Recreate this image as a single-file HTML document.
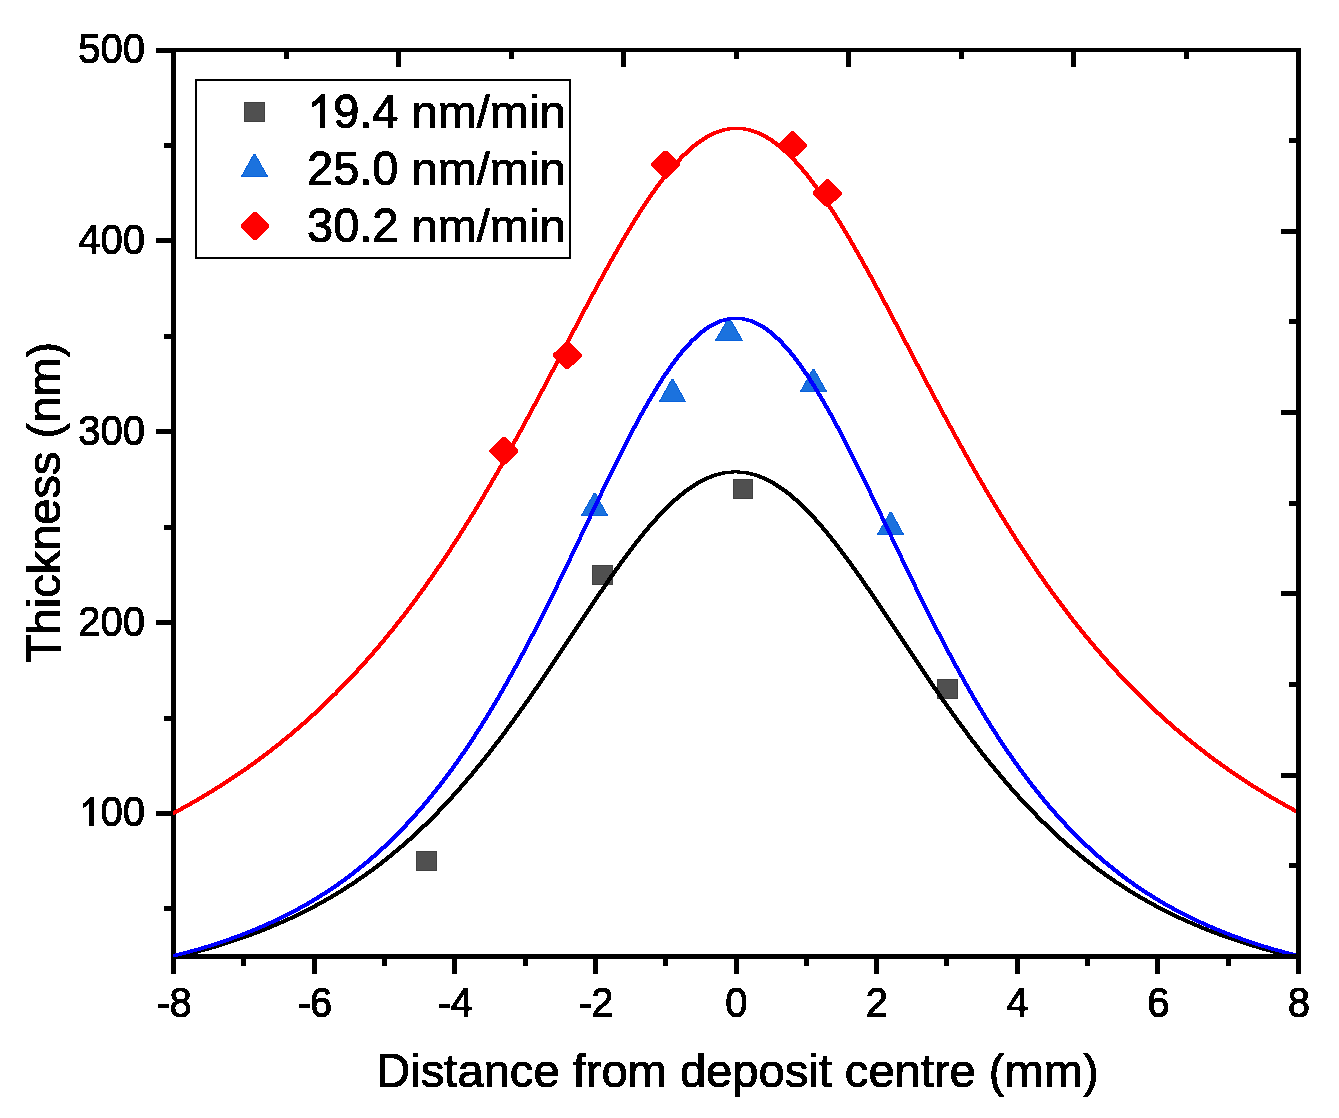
<!DOCTYPE html>
<html><head><meta charset="utf-8"><title>Thickness profile</title><style>
html,body{margin:0;padding:0;background:#fff;width:1339px;height:1118px;overflow:hidden}
svg{display:block}
text{font-family:"Liberation Sans",sans-serif;fill:#000;stroke:#000;stroke-width:1px}
</style></head><body>
<svg width="1339" height="1118" viewBox="0 0 1339 1118">
<defs><filter id="al" x="0" y="0" width="1339" height="1118" filterUnits="userSpaceOnUse"><feComponentTransfer><feFuncA type="discrete" tableValues="0 1"/></feComponentTransfer></filter></defs>
<rect width="1339" height="1118" fill="#fff"/>
<g fill="#000" shape-rendering="crispEdges"><rect x="171.00" y="48.00" width="1130.00" height="4.00"/><rect x="171.00" y="954.00" width="1130.00" height="5.00"/><rect x="171.00" y="48.00" width="5.00" height="911.00"/><rect x="1296.00" y="48.00" width="5.00" height="911.00"/><rect x="164.00" y="906.44" width="7.00" height="5.00"/><rect x="156.00" y="811.00" width="15.00" height="5.00"/><rect x="164.00" y="715.56" width="7.00" height="5.00"/><rect x="156.00" y="620.12" width="15.00" height="5.00"/><rect x="164.00" y="524.69" width="7.00" height="5.00"/><rect x="156.00" y="429.25" width="15.00" height="5.00"/><rect x="164.00" y="333.81" width="7.00" height="5.00"/><rect x="156.00" y="238.38" width="15.00" height="5.00"/><rect x="164.00" y="142.94" width="7.00" height="5.00"/><rect x="156.00" y="47.50" width="15.00" height="5.00"/><rect x="171.00" y="959.00" width="5.00" height="15.00"/><rect x="241.31" y="959.00" width="5.00" height="7.00"/><rect x="311.62" y="959.00" width="5.00" height="15.00"/><rect x="381.94" y="959.00" width="5.00" height="7.00"/><rect x="452.25" y="959.00" width="5.00" height="15.00"/><rect x="522.56" y="959.00" width="5.00" height="7.00"/><rect x="592.88" y="959.00" width="5.00" height="15.00"/><rect x="663.19" y="959.00" width="5.00" height="7.00"/><rect x="733.50" y="959.00" width="5.00" height="15.00"/><rect x="803.81" y="959.00" width="5.00" height="7.00"/><rect x="874.12" y="959.00" width="5.00" height="15.00"/><rect x="944.44" y="959.00" width="5.00" height="7.00"/><rect x="1014.75" y="959.00" width="5.00" height="15.00"/><rect x="1085.06" y="959.00" width="5.00" height="7.00"/><rect x="1155.38" y="959.00" width="5.00" height="15.00"/><rect x="1225.69" y="959.00" width="5.00" height="7.00"/><rect x="1296.00" y="959.00" width="5.00" height="15.00"/><rect x="283.50" y="52.00" width="5.00" height="7.00"/><rect x="396.00" y="52.00" width="5.00" height="15.00"/><rect x="508.50" y="52.00" width="5.00" height="7.00"/><rect x="621.00" y="52.00" width="5.00" height="15.00"/><rect x="733.50" y="52.00" width="5.00" height="7.00"/><rect x="846.00" y="52.00" width="5.00" height="15.00"/><rect x="958.50" y="52.00" width="5.00" height="7.00"/><rect x="1071.00" y="52.00" width="5.00" height="15.00"/><rect x="1183.50" y="52.00" width="5.00" height="7.00"/><rect x="1289.00" y="138.15" width="7.00" height="5.00"/><rect x="1281.00" y="228.80" width="15.00" height="5.00"/><rect x="1289.00" y="319.45" width="7.00" height="5.00"/><rect x="1281.00" y="410.10" width="15.00" height="5.00"/><rect x="1289.00" y="500.75" width="7.00" height="5.00"/><rect x="1281.00" y="591.40" width="15.00" height="5.00"/><rect x="1289.00" y="682.05" width="7.00" height="5.00"/><rect x="1281.00" y="772.70" width="15.00" height="5.00"/><rect x="1289.00" y="863.35" width="7.00" height="5.00"/></g>
<g filter="url(#al)"><path d="M93.71,825.70 L89.22,825.70 L89.22,803.83 Q87.66,805.39 85.70,806.46 Q84.14,807.44 82.93,808.22 L82.93,803.49 Q85.70,802.07 87.46,800.31 Q89.22,798.45 90.19,796.89 L93.71,796.89 Z" fill="#000"/><g transform="translate(0,826.00) scale(1,1.06)"><text x="100.52" y="0" font-size="40">00</text></g><g transform="translate(0,635.62) scale(1,1.06)"><text x="145" y="0" text-anchor="end" font-size="40">200</text></g><g transform="translate(0,444.75) scale(1,1.06)"><text x="145" y="0" text-anchor="end" font-size="40">300</text></g><g transform="translate(0,253.88) scale(1,1.06)"><text x="145" y="0" text-anchor="end" font-size="40">400</text></g><g transform="translate(0,63.00) scale(1,1.06)"><text x="145" y="0" text-anchor="end" font-size="40">500</text></g><rect x="158.0" y="1004" width="11" height="4" fill="#000"/><g transform="translate(0,1017) scale(1,1.06)"><text x="169.44" y="0" font-size="40">8</text></g><rect x="298.6" y="1004" width="11" height="4" fill="#000"/><g transform="translate(0,1017) scale(1,1.06)"><text x="310.06" y="0" font-size="40">6</text></g><rect x="439.2" y="1004" width="11" height="4" fill="#000"/><g transform="translate(0,1017) scale(1,1.06)"><text x="450.69" y="0" font-size="40">4</text></g><rect x="579.9" y="1004" width="11" height="4" fill="#000"/><g transform="translate(0,1017) scale(1,1.06)"><text x="591.32" y="0" font-size="40">2</text></g><g transform="translate(0,1017) scale(1,1.06)"><text x="736.4" y="0" text-anchor="middle" font-size="40">0</text></g><g transform="translate(0,1017) scale(1,1.06)"><text x="877.0" y="0" text-anchor="middle" font-size="40">2</text></g><g transform="translate(0,1017) scale(1,1.06)"><text x="1017.6" y="0" text-anchor="middle" font-size="40">4</text></g><g transform="translate(0,1017) scale(1,1.06)"><text x="1158.3" y="0" text-anchor="middle" font-size="40">6</text></g><g transform="translate(0,1017) scale(1,1.06)"><text x="1298.9" y="0" text-anchor="middle" font-size="40">8</text></g><g transform="translate(376.34,1087) scale(1,1.04)"><text x="0" y="0" font-size="47.1">D</text></g><text x="410.36" y="1087" font-size="47.1">istance from deposit centre (mm)</text><g transform="translate(60,502.5) rotate(-90)"><g transform="translate(-160.62,0) scale(1,1.04)"><text x="0" y="0" font-size="47">T</text></g><text x="-131.90" y="0" font-size="47">hickness (nm)</text></g><path d="M325.13,128.00 L319.85,128.00 L319.85,102.30 Q318.02,104.13 315.72,105.40 Q313.88,106.54 312.46,107.46 L312.46,101.91 Q315.72,100.23 317.79,98.17 Q319.85,95.99 321.00,94.15 L325.13,94.15 Z" fill="#000"/><g transform="translate(333.13,128) scale(1,1.03)"><text x="0" y="0" font-size="47">9.4</text></g><text x="411.53" y="128" font-size="47">nm/min</text><g transform="translate(307,185) scale(1,1.03)"><text x="0" y="0" font-size="47">25.0</text></g><text x="411.53" y="185" font-size="47">nm/min</text><g transform="translate(307,241.7) scale(1,1.03)"><text x="0" y="0" font-size="47">30.2</text></g><text x="411.53" y="241.7" font-size="47">nm/min</text></g>
<g shape-rendering="crispEdges"><rect x="416.5" y="851.5" width="20" height="19" fill="#505050" stroke="#414141" stroke-width="1"/><rect x="592.5" y="565.5" width="20" height="19" fill="#505050" stroke="#414141" stroke-width="1"/><rect x="733.5" y="479.5" width="19" height="19" fill="#505050" stroke="#414141" stroke-width="1"/><rect x="937.5" y="679.5" width="20" height="19" fill="#505050" stroke="#414141" stroke-width="1"/><path d="M593.90,493.60 L595.50,493.60 L607.50,515.50 L581.50,515.50 Z" fill="#1b72de" stroke="#0a62dc" stroke-width="1" stroke-linejoin="miter"/><path d="M671.70,379.60 L673.30,379.60 L685.50,401.50 L659.50,401.50 Z" fill="#1b72de" stroke="#0a62dc" stroke-width="1" stroke-linejoin="miter"/><path d="M728.20,318.60 L729.80,318.60 L742.50,340.50 L715.50,340.50 Z" fill="#1b72de" stroke="#0a62dc" stroke-width="1" stroke-linejoin="miter"/><path d="M812.70,369.60 L814.30,369.60 L826.50,391.50 L800.50,391.50 Z" fill="#1b72de" stroke="#0a62dc" stroke-width="1" stroke-linejoin="miter"/><path d="M890.00,512.60 L891.60,512.60 L903.50,534.50 L877.50,534.50 Z" fill="#1b72de" stroke="#0a62dc" stroke-width="1" stroke-linejoin="miter"/><path d="M502.77,436.84 L505.17,436.84 L518.47,449.64 L518.47,452.04 L505.17,464.84 L502.77,464.84 L489.47,452.04 L489.47,449.64 Z" fill="#ff0000"/><path d="M566.05,341.40 L568.45,341.40 L581.75,354.20 L581.75,356.60 L568.45,369.40 L566.05,369.40 L552.75,356.60 L552.75,354.20 Z" fill="#ff0000"/><path d="M664.49,150.52 L666.89,150.52 L680.19,163.32 L680.19,165.72 L666.89,178.52 L664.49,178.52 L651.19,165.72 L651.19,163.32 Z" fill="#ff0000"/><path d="M791.05,131.44 L793.45,131.44 L806.75,144.24 L806.75,146.64 L793.45,159.44 L791.05,159.44 L777.75,146.64 L777.75,144.24 Z" fill="#ff0000"/><path d="M826.21,179.16 L828.61,179.16 L841.91,191.96 L841.91,194.36 L828.61,207.16 L826.21,207.16 L812.91,194.36 L812.91,191.96 Z" fill="#ff0000"/></g>
<g stroke="none" shape-rendering="crispEdges"><path d="M173.0,956.0 L174.0,955.8 L175.0,955.6 L176.0,955.3 L177.0,955.1 L178.0,954.8 L179.0,954.6 L180.0,954.3 L181.0,954.1 L182.0,953.8 L183.0,953.6 L184.0,953.3 L185.0,953.1 L186.0,952.8 L187.0,952.6 L188.0,952.3 L189.0,952.1 L190.0,951.8 L191.0,951.5 L192.0,951.3 L193.0,951.0 L194.0,950.7 L195.0,950.5 L196.0,950.2 L197.0,949.9 L198.0,949.6 L199.0,949.4 L200.0,949.1 L201.0,948.8 L202.0,948.5 L203.0,948.3 L204.0,948.0 L205.0,947.7 L206.0,947.4 L207.0,947.1 L208.0,946.8 L209.0,946.5 L210.0,946.2 L211.0,945.9 L212.0,945.7 L213.0,945.4 L214.0,945.1 L215.0,944.8 L216.0,944.4 L217.0,944.1 L218.0,943.8 L219.0,943.5 L220.0,943.2 L221.0,942.9 L222.0,942.6 L223.0,942.3 L224.0,942.0 L225.0,941.6 L226.0,941.3 L227.0,941.0 L228.0,940.7 L229.0,940.3 L230.0,940.0 L231.0,939.7 L232.0,939.3 L233.0,939.0 L234.0,938.7 L235.0,938.3 L236.0,938.0 L237.0,937.7 L238.0,937.3 L239.0,937.0 L240.0,936.6 L241.0,936.3 L242.0,935.9 L243.0,935.6 L244.0,935.2 L245.0,934.8 L246.0,934.5 L247.0,934.1 L248.0,933.8 L249.0,933.4 L250.0,933.0 L251.0,932.6 L252.0,932.3 L253.0,931.9 L254.0,931.5 L255.0,931.1 L256.0,930.8 L257.0,930.4 L258.0,930.0 L259.0,929.6 L260.0,929.2 L261.0,928.8 L262.0,928.4 L263.0,928.0 L264.0,927.6 L265.0,927.2 L266.0,926.8 L267.0,926.4 L268.0,926.0 L269.0,925.6 L270.0,925.2 L271.0,924.7 L272.0,924.3 L273.0,923.9 L274.0,923.5 L275.0,923.0 L276.0,922.6 L277.0,922.2 L278.0,921.7 L279.0,921.3 L280.0,920.9 L281.0,920.4 L282.0,920.0 L283.0,919.5 L284.0,919.1 L285.0,918.6 L286.0,918.2 L287.0,917.7 L288.0,917.3 L289.0,916.8 L290.0,916.3 L291.0,915.9 L292.0,915.4 L293.0,914.9 L294.0,914.4 L295.0,914.0 L296.0,913.5 L297.0,913.0 L298.0,912.5 L299.0,912.0 L300.0,911.5 L301.0,911.0 L302.0,910.5 L303.0,910.0 L304.0,909.5 L305.0,909.0 L306.0,908.5 L307.0,908.0 L308.0,907.5 L309.0,906.9 L310.0,906.4 L311.0,905.9 L312.0,905.4 L313.0,904.8 L314.0,904.3 L315.0,903.8 L316.0,903.2 L317.0,902.7 L318.0,902.1 L319.0,901.6 L320.0,901.0 L321.0,900.5 L322.0,899.9 L323.0,899.3 L324.0,898.8 L325.0,898.2 L326.0,897.6 L327.0,897.1 L328.0,896.5 L329.0,895.9 L330.0,895.3 L331.0,894.7 L332.0,894.1 L333.0,893.5 L334.0,892.9 L335.0,892.3 L336.0,891.7 L337.0,891.1 L338.0,890.5 L339.0,889.9 L340.0,889.3 L341.0,888.6 L342.0,888.0 L343.0,887.4 L344.0,886.7 L345.0,886.1 L346.0,885.5 L347.0,884.8 L348.0,884.2 L349.0,883.5 L350.0,882.9 L351.0,882.2 L352.0,881.5 L353.0,880.9 L354.0,880.2 L355.0,879.5 L356.0,878.8 L357.0,878.2 L358.0,877.5 L359.0,876.8 L360.0,876.1 L361.0,875.4 L362.0,874.7 L363.0,874.0 L364.0,873.3 L365.0,872.6 L366.0,871.8 L367.0,871.1 L368.0,870.4 L369.0,869.7 L370.0,868.9 L371.0,868.2 L372.0,867.5 L373.0,866.7 L374.0,866.0 L375.0,865.2 L376.0,864.5 L377.0,863.7 L378.0,862.9 L379.0,862.2 L380.0,861.4 L381.0,860.6 L382.0,859.8 L383.0,859.0 L384.0,858.2 L385.0,857.5 L386.0,856.7 L387.0,855.9 L388.0,855.0 L389.0,854.2 L390.0,853.4 L391.0,852.6 L392.0,851.8 L393.0,850.9 L394.0,850.1 L395.0,849.3 L396.0,848.4 L397.0,847.6 L398.0,846.7 L399.0,845.9 L400.0,845.0 L401.0,844.1 L402.0,843.3 L403.0,842.4 L404.0,841.5 L405.0,840.6 L406.0,839.8 L407.0,838.9 L408.0,838.0 L409.0,837.1 L410.0,836.2 L411.0,835.3 L412.0,834.3 L413.0,833.4 L414.0,832.5 L415.0,831.6 L416.0,830.6 L417.0,829.7 L418.0,828.8 L419.0,827.8 L420.0,826.9 L421.0,825.9 L422.0,824.9 L423.0,824.0 L424.0,823.0 L425.0,822.0 L426.0,821.1 L427.0,820.1 L428.0,819.1 L429.0,818.1 L430.0,817.1 L431.0,816.1 L432.0,815.1 L433.0,814.1 L434.0,813.0 L435.0,812.0 L436.0,811.0 L437.0,810.0 L438.0,808.9 L439.0,807.9 L440.0,806.8 L441.0,805.8 L442.0,804.7 L443.0,803.7 L444.0,802.6 L445.0,801.5 L446.0,800.4 L447.0,799.4 L448.0,798.3 L449.0,797.2 L450.0,796.1 L451.0,795.0 L452.0,793.9 L453.0,792.8 L454.0,791.7 L455.0,790.5 L456.0,789.4 L457.0,788.3 L458.0,787.2 L459.0,786.0 L460.0,784.9 L461.0,783.7 L462.0,782.6 L463.0,781.4 L464.0,780.2 L465.0,779.1 L466.0,777.9 L467.0,776.7 L468.0,775.5 L469.0,774.4 L470.0,773.2 L471.0,772.0 L472.0,770.8 L473.0,769.6 L474.0,768.3 L475.0,767.1 L476.0,765.9 L477.0,764.7 L478.0,763.5 L479.0,762.2 L480.0,761.0 L481.0,759.7 L482.0,758.5 L483.0,757.2 L484.0,756.0 L485.0,754.7 L486.0,753.4 L487.0,752.2 L488.0,750.9 L489.0,749.6 L490.0,748.3 L491.0,747.0 L492.0,745.7 L493.0,744.4 L494.0,743.1 L495.0,741.8 L496.0,740.5 L497.0,739.2 L498.0,737.9 L499.0,736.6 L500.0,735.2 L501.0,733.9 L502.0,732.6 L503.0,731.2 L504.0,729.9 L505.0,728.5 L506.0,727.2 L507.0,725.8 L508.0,724.4 L509.0,723.1 L510.0,721.7 L511.0,720.3 L512.0,719.0 L513.0,717.6 L514.0,716.2 L515.0,714.8 L516.0,713.4 L517.0,712.0 L518.0,710.6 L519.0,709.2 L520.0,707.8 L521.0,706.4 L522.0,705.0 L523.0,703.5 L524.0,702.1 L525.0,700.7 L526.0,699.3 L527.0,697.8 L528.0,696.4 L529.0,695.0 L530.0,693.5 L531.0,692.1 L532.0,690.6 L533.0,689.2 L534.0,687.7 L535.0,686.3 L536.0,684.8 L537.0,683.4 L538.0,681.9 L539.0,680.4 L540.0,679.0 L541.0,677.5 L542.0,676.0 L543.0,674.5 L544.0,673.1 L545.0,671.6 L546.0,670.1 L547.0,668.6 L548.0,667.1 L549.0,665.6 L550.0,664.2 L551.0,662.7 L552.0,661.2 L553.0,659.7 L554.0,658.2 L555.0,656.7 L556.0,655.2 L557.0,653.7 L558.0,652.2 L559.0,650.7 L560.0,649.2 L561.0,647.7 L562.0,646.2 L563.0,644.7 L564.0,643.2 L565.0,641.7 L566.0,640.1 L567.0,638.6 L568.0,637.1 L569.0,635.6 L570.0,634.1 L571.0,632.6 L572.0,631.1 L573.0,629.6 L574.0,628.1 L575.0,626.6 L576.0,625.1 L577.0,623.6 L578.0,622.0 L579.0,620.5 L580.0,619.0 L581.0,617.5 L582.0,616.0 L583.0,614.5 L584.0,613.0 L585.0,611.5 L586.0,610.0 L587.0,608.5 L588.0,607.0 L589.0,605.5 L590.0,604.0 L591.0,602.6 L592.0,601.1 L593.0,599.6 L594.0,598.1 L595.0,596.6 L596.0,595.1 L597.0,593.7 L598.0,592.2 L599.0,590.7 L600.0,589.3 L601.0,587.8 L602.0,586.3 L603.0,584.9 L604.0,583.4 L605.0,582.0 L606.0,580.5 L607.0,579.1 L608.0,577.7 L609.0,576.2 L610.0,574.8 L611.0,573.4 L612.0,571.9 L613.0,570.5 L614.0,569.1 L615.0,567.7 L616.0,566.3 L617.0,564.9 L618.0,563.5 L619.0,562.1 L620.0,560.8 L621.0,559.4 L622.0,558.0 L623.0,556.7 L624.0,555.3 L625.0,553.9 L626.0,552.6 L627.0,551.3 L628.0,549.9 L629.0,548.6 L630.0,547.3 L631.0,546.0 L632.0,544.7 L633.0,543.4 L634.0,542.1 L635.0,540.8 L636.0,539.5 L637.0,538.3 L638.0,537.0 L639.0,535.8 L640.0,534.5 L641.0,533.3 L642.0,532.1 L643.0,530.8 L644.0,529.6 L645.0,528.4 L646.0,527.2 L647.0,526.1 L648.0,524.9 L649.0,523.7 L650.0,522.6 L651.0,521.4 L652.0,520.3 L653.0,519.2 L654.0,518.1 L655.0,517.0 L656.0,515.9 L657.0,514.8 L658.0,513.7 L659.0,512.6 L660.0,511.6 L661.0,510.5 L662.0,509.5 L663.0,508.5 L664.0,507.5 L665.0,506.5 L666.0,505.5 L667.0,504.5 L668.0,503.6 L669.0,502.6 L670.0,501.7 L671.0,500.7 L672.0,499.8 L673.0,498.9 L674.0,498.0 L675.0,497.2 L676.0,496.3 L677.0,495.4 L678.0,494.6 L679.0,493.8 L680.0,493.0 L681.0,492.2 L682.0,491.4 L683.0,490.6 L684.0,489.8 L685.0,489.1 L686.0,488.3 L687.0,487.6 L688.0,486.9 L689.0,486.2 L690.0,485.5 L691.0,484.9 L692.0,484.2 L693.0,483.6 L694.0,483.0 L695.0,482.4 L696.0,481.8 L697.0,481.2 L698.0,480.6 L699.0,480.1 L700.0,479.5 L701.0,479.0 L702.0,478.5 L703.0,478.0 L704.0,477.5 L705.0,477.1 L706.0,476.6 L707.0,476.2 L708.0,475.8 L709.0,475.4 L710.0,475.0 L711.0,474.6 L712.0,474.3 L713.0,473.9 L714.0,473.6 L715.0,473.3 L716.0,473.0 L717.0,472.7 L718.0,472.5 L719.0,472.2 L720.0,472.0 L721.0,471.8 L722.0,471.6 L723.0,471.4 L724.0,471.2 L725.0,471.1 L726.0,470.9 L727.0,470.8 L728.0,470.7 L729.0,470.6 L730.0,470.5 L731.0,470.5 L732.0,470.4 L733.0,470.4 L734.0,470.4 L735.0,470.4 L736.0,470.4 L737.0,470.4 L738.0,470.4 L739.0,470.4 L740.0,470.5 L741.0,470.5 L742.0,470.6 L743.0,470.7 L744.0,470.8 L745.0,470.9 L746.0,471.1 L747.0,471.2 L748.0,471.4 L749.0,471.6 L750.0,471.8 L751.0,472.0 L752.0,472.2 L753.0,472.4 L754.0,472.7 L755.0,473.0 L756.0,473.3 L757.0,473.6 L758.0,473.9 L759.0,474.3 L760.0,474.6 L761.0,475.0 L762.0,475.4 L763.0,475.8 L764.0,476.2 L765.0,476.6 L766.0,477.1 L767.0,477.5 L768.0,478.0 L769.0,478.5 L770.0,479.0 L771.0,479.5 L772.0,480.1 L773.0,480.6 L774.0,481.2 L775.0,481.7 L776.0,482.3 L777.0,483.0 L778.0,483.6 L779.0,484.2 L780.0,484.9 L781.0,485.5 L782.0,486.2 L783.0,486.9 L784.0,487.6 L785.0,488.3 L786.0,489.1 L787.0,489.8 L788.0,490.6 L789.0,491.4 L790.0,492.1 L791.0,492.9 L792.0,493.8 L793.0,494.6 L794.0,495.4 L795.0,496.3 L796.0,497.1 L797.0,498.0 L798.0,498.9 L799.0,499.8 L800.0,500.7 L801.0,501.7 L802.0,502.6 L803.0,503.5 L804.0,504.5 L805.0,505.5 L806.0,506.5 L807.0,507.5 L808.0,508.5 L809.0,509.5 L810.0,510.5 L811.0,511.6 L812.0,512.6 L813.0,513.7 L814.0,514.8 L815.0,515.8 L816.0,516.9 L817.0,518.0 L818.0,519.2 L819.0,520.3 L820.0,521.4 L821.0,522.6 L822.0,523.7 L823.0,524.9 L824.0,526.0 L825.0,527.2 L826.0,528.4 L827.0,529.6 L828.0,530.8 L829.0,532.0 L830.0,533.3 L831.0,534.5 L832.0,535.7 L833.0,537.0 L834.0,538.3 L835.0,539.5 L836.0,540.8 L837.0,542.1 L838.0,543.4 L839.0,544.7 L840.0,546.0 L841.0,547.3 L842.0,548.6 L843.0,549.9 L844.0,551.2 L845.0,552.6 L846.0,553.9 L847.0,555.3 L848.0,556.6 L849.0,558.0 L850.0,559.4 L851.0,560.7 L852.0,562.1 L853.0,563.5 L854.0,564.9 L855.0,566.3 L856.0,567.7 L857.0,569.1 L858.0,570.5 L859.0,571.9 L860.0,573.3 L861.0,574.8 L862.0,576.2 L863.0,577.6 L864.0,579.1 L865.0,580.5 L866.0,582.0 L867.0,583.4 L868.0,584.9 L869.0,586.3 L870.0,587.8 L871.0,589.2 L872.0,590.7 L873.0,592.2 L874.0,593.6 L875.0,595.1 L876.0,596.6 L877.0,598.1 L878.0,599.6 L879.0,601.0 L880.0,602.5 L881.0,604.0 L882.0,605.5 L883.0,607.0 L884.0,608.5 L885.0,610.0 L886.0,611.5 L887.0,613.0 L888.0,614.5 L889.0,616.0 L890.0,617.5 L891.0,619.0 L892.0,620.5 L893.0,622.0 L894.0,623.5 L895.0,625.0 L896.0,626.5 L897.0,628.1 L898.0,629.6 L899.0,631.1 L900.0,632.6 L901.0,634.1 L902.0,635.6 L903.0,637.1 L904.0,638.6 L905.0,640.1 L906.0,641.6 L907.0,643.1 L908.0,644.6 L909.0,646.1 L910.0,647.7 L911.0,649.2 L912.0,650.7 L913.0,652.2 L914.0,653.7 L915.0,655.2 L916.0,656.7 L917.0,658.2 L918.0,659.7 L919.0,661.2 L920.0,662.6 L921.0,664.1 L922.0,665.6 L923.0,667.1 L924.0,668.6 L925.0,670.1 L926.0,671.6 L927.0,673.0 L928.0,674.5 L929.0,676.0 L930.0,677.5 L931.0,678.9 L932.0,680.4 L933.0,681.9 L934.0,683.3 L935.0,684.8 L936.0,686.3 L937.0,687.7 L938.0,689.2 L939.0,690.6 L940.0,692.1 L941.0,693.5 L942.0,694.9 L943.0,696.4 L944.0,697.8 L945.0,699.3 L946.0,700.7 L947.0,702.1 L948.0,703.5 L949.0,704.9 L950.0,706.4 L951.0,707.8 L952.0,709.2 L953.0,710.6 L954.0,712.0 L955.0,713.4 L956.0,714.8 L957.0,716.2 L958.0,717.5 L959.0,718.9 L960.0,720.3 L961.0,721.7 L962.0,723.1 L963.0,724.4 L964.0,725.8 L965.0,727.1 L966.0,728.5 L967.0,729.8 L968.0,731.2 L969.0,732.5 L970.0,733.9 L971.0,735.2 L972.0,736.5 L973.0,737.9 L974.0,739.2 L975.0,740.5 L976.0,741.8 L977.0,743.1 L978.0,744.4 L979.0,745.7 L980.0,747.0 L981.0,748.3 L982.0,749.6 L983.0,750.9 L984.0,752.2 L985.0,753.4 L986.0,754.7 L987.0,756.0 L988.0,757.2 L989.0,758.5 L990.0,759.7 L991.0,761.0 L992.0,762.2 L993.0,763.4 L994.0,764.7 L995.0,765.9 L996.0,767.1 L997.0,768.3 L998.0,769.5 L999.0,770.7 L1000.0,771.9 L1001.0,773.1 L1002.0,774.3 L1003.0,775.5 L1004.0,776.7 L1005.0,777.9 L1006.0,779.1 L1007.0,780.2 L1008.0,781.4 L1009.0,782.6 L1010.0,783.7 L1011.0,784.9 L1012.0,786.0 L1013.0,787.1 L1014.0,788.3 L1015.0,789.4 L1016.0,790.5 L1017.0,791.6 L1018.0,792.8 L1019.0,793.9 L1020.0,795.0 L1021.0,796.1 L1022.0,797.2 L1023.0,798.3 L1024.0,799.4 L1025.0,800.4 L1026.0,801.5 L1027.0,802.6 L1028.0,803.6 L1029.0,804.7 L1030.0,805.8 L1031.0,806.8 L1032.0,807.9 L1033.0,808.9 L1034.0,809.9 L1035.0,811.0 L1036.0,812.0 L1037.0,813.0 L1038.0,814.0 L1039.0,815.1 L1040.0,816.1 L1041.0,817.1 L1042.0,818.1 L1043.0,819.1 L1044.0,820.1 L1045.0,821.0 L1046.0,822.0 L1047.0,823.0 L1048.0,824.0 L1049.0,824.9 L1050.0,825.9 L1051.0,826.8 L1052.0,827.8 L1053.0,828.7 L1054.0,829.7 L1055.0,830.6 L1056.0,831.6 L1057.0,832.5 L1058.0,833.4 L1059.0,834.3 L1060.0,835.2 L1061.0,836.2 L1062.0,837.1 L1063.0,838.0 L1064.0,838.9 L1065.0,839.7 L1066.0,840.6 L1067.0,841.5 L1068.0,842.4 L1069.0,843.3 L1070.0,844.1 L1071.0,845.0 L1072.0,845.9 L1073.0,846.7 L1074.0,847.6 L1075.0,848.4 L1076.0,849.3 L1077.0,850.1 L1078.0,850.9 L1079.0,851.8 L1080.0,852.6 L1081.0,853.4 L1082.0,854.2 L1083.0,855.0 L1084.0,855.8 L1085.0,856.6 L1086.0,857.4 L1087.0,858.2 L1088.0,859.0 L1089.0,859.8 L1090.0,860.6 L1091.0,861.4 L1092.0,862.1 L1093.0,862.9 L1094.0,863.7 L1095.0,864.4 L1096.0,865.2 L1097.0,866.0 L1098.0,866.7 L1099.0,867.4 L1100.0,868.2 L1101.0,868.9 L1102.0,869.7 L1103.0,870.4 L1104.0,871.1 L1105.0,871.8 L1106.0,872.6 L1107.0,873.3 L1108.0,874.0 L1109.0,874.7 L1110.0,875.4 L1111.0,876.1 L1112.0,876.8 L1113.0,877.5 L1114.0,878.1 L1115.0,878.8 L1116.0,879.5 L1117.0,880.2 L1118.0,880.9 L1119.0,881.5 L1120.0,882.2 L1121.0,882.8 L1122.0,883.5 L1123.0,884.2 L1124.0,884.8 L1125.0,885.5 L1126.0,886.1 L1127.0,886.7 L1128.0,887.4 L1129.0,888.0 L1130.0,888.6 L1131.0,889.2 L1132.0,889.9 L1133.0,890.5 L1134.0,891.1 L1135.0,891.7 L1136.0,892.3 L1137.0,892.9 L1138.0,893.5 L1139.0,894.1 L1140.0,894.7 L1141.0,895.3 L1142.0,895.9 L1143.0,896.5 L1144.0,897.0 L1145.0,897.6 L1146.0,898.2 L1147.0,898.8 L1148.0,899.3 L1149.0,899.9 L1150.0,900.5 L1151.0,901.0 L1152.0,901.6 L1153.0,902.1 L1154.0,902.7 L1155.0,903.2 L1156.0,903.8 L1157.0,904.3 L1158.0,904.8 L1159.0,905.4 L1160.0,905.9 L1161.0,906.4 L1162.0,906.9 L1163.0,907.5 L1164.0,908.0 L1165.0,908.5 L1166.0,909.0 L1167.0,909.5 L1168.0,910.0 L1169.0,910.5 L1170.0,911.0 L1171.0,911.5 L1172.0,912.0 L1173.0,912.5 L1174.0,913.0 L1175.0,913.5 L1176.0,914.0 L1177.0,914.4 L1178.0,914.9 L1179.0,915.4 L1180.0,915.9 L1181.0,916.3 L1182.0,916.8 L1183.0,917.3 L1184.0,917.7 L1185.0,918.2 L1186.0,918.6 L1187.0,919.1 L1188.0,919.5 L1189.0,920.0 L1190.0,920.4 L1191.0,920.9 L1192.0,921.3 L1193.0,921.7 L1194.0,922.2 L1195.0,922.6 L1196.0,923.0 L1197.0,923.5 L1198.0,923.9 L1199.0,924.3 L1200.0,924.7 L1201.0,925.2 L1202.0,925.6 L1203.0,926.0 L1204.0,926.4 L1205.0,926.8 L1206.0,927.2 L1207.0,927.6 L1208.0,928.0 L1209.0,928.4 L1210.0,928.8 L1211.0,929.2 L1212.0,929.6 L1213.0,930.0 L1214.0,930.4 L1215.0,930.7 L1216.0,931.1 L1217.0,931.5 L1218.0,931.9 L1219.0,932.3 L1220.0,932.6 L1221.0,933.0 L1222.0,933.4 L1223.0,933.7 L1224.0,934.1 L1225.0,934.5 L1226.0,934.8 L1227.0,935.2 L1228.0,935.6 L1229.0,935.9 L1230.0,936.3 L1231.0,936.6 L1232.0,937.0 L1233.0,937.3 L1234.0,937.6 L1235.0,938.0 L1236.0,938.3 L1237.0,938.7 L1238.0,939.0 L1239.0,939.3 L1240.0,939.7 L1241.0,940.0 L1242.0,940.3 L1243.0,940.7 L1244.0,941.0 L1245.0,941.3 L1246.0,941.6 L1247.0,942.0 L1248.0,942.3 L1249.0,942.6 L1250.0,942.9 L1251.0,943.2 L1252.0,943.5 L1253.0,943.8 L1254.0,944.1 L1255.0,944.4 L1256.0,944.7 L1257.0,945.0 L1258.0,945.3 L1259.0,945.6 L1260.0,945.9 L1261.0,946.2 L1262.0,946.5 L1263.0,946.8 L1264.0,947.1 L1265.0,947.4 L1266.0,947.7 L1267.0,948.0 L1268.0,948.3 L1269.0,948.5 L1270.0,948.8 L1271.0,949.1 L1272.0,949.4 L1273.0,949.6 L1274.0,949.9 L1275.0,950.2 L1276.0,950.5 L1277.0,950.7 L1278.0,951.0 L1279.0,951.3 L1280.0,951.5 L1281.0,951.8 L1282.0,952.0 L1283.0,952.3 L1284.0,952.6 L1285.0,952.8 L1286.0,953.1 L1287.0,953.3 L1288.0,953.6 L1289.0,953.8 L1290.0,954.1 L1291.0,954.3 L1292.0,954.6 L1293.0,954.8 L1294.0,955.1 L1295.0,955.3 L1296.0,955.6 L1297.0,955.8 L1298.0,956.0 L1299.0,956.3 L1300.0,956.5 L1300.0,959.5 L1299.0,959.5 L1298.0,959.5 L1297.0,959.5 L1296.0,959.3 L1295.0,959.0 L1294.0,958.8 L1293.0,958.6 L1292.0,958.3 L1291.0,958.1 L1290.0,957.8 L1289.0,957.6 L1288.0,957.3 L1287.0,957.1 L1286.0,956.8 L1285.0,956.6 L1284.0,956.3 L1283.0,956.1 L1282.0,955.8 L1281.0,955.6 L1280.0,955.3 L1279.0,955.0 L1278.0,954.8 L1277.0,954.5 L1276.0,954.3 L1275.0,954.0 L1274.0,953.7 L1273.0,953.5 L1272.0,953.2 L1271.0,952.9 L1270.0,952.6 L1269.0,952.4 L1268.0,952.1 L1267.0,951.8 L1266.0,951.5 L1265.0,951.3 L1264.0,951.0 L1263.0,950.7 L1262.0,950.4 L1261.0,950.1 L1260.0,949.8 L1259.0,949.5 L1258.0,949.2 L1257.0,948.9 L1256.0,948.6 L1255.0,948.3 L1254.0,948.0 L1253.0,947.7 L1252.0,947.4 L1251.0,947.1 L1250.0,946.8 L1249.0,946.5 L1248.0,946.2 L1247.0,945.9 L1246.0,945.6 L1245.0,945.3 L1244.0,945.0 L1243.0,944.6 L1242.0,944.3 L1241.0,944.0 L1240.0,943.7 L1239.0,943.3 L1238.0,943.0 L1237.0,942.7 L1236.0,942.3 L1235.0,942.0 L1234.0,941.7 L1233.0,941.3 L1232.0,941.0 L1231.0,940.6 L1230.0,940.3 L1229.0,940.0 L1228.0,939.6 L1227.0,939.3 L1226.0,938.9 L1225.0,938.6 L1224.0,938.2 L1223.0,937.8 L1222.0,937.5 L1221.0,937.1 L1220.0,936.7 L1219.0,936.4 L1218.0,936.0 L1217.0,935.6 L1216.0,935.3 L1215.0,934.9 L1214.0,934.5 L1213.0,934.1 L1212.0,933.7 L1211.0,933.4 L1210.0,933.0 L1209.0,932.6 L1208.0,932.2 L1207.0,931.8 L1206.0,931.4 L1205.0,931.0 L1204.0,930.6 L1203.0,930.2 L1202.0,929.8 L1201.0,929.4 L1200.0,929.0 L1199.0,928.6 L1198.0,928.2 L1197.0,927.7 L1196.0,927.3 L1195.0,926.9 L1194.0,926.5 L1193.0,926.0 L1192.0,925.6 L1191.0,925.2 L1190.0,924.7 L1189.0,924.3 L1188.0,923.9 L1187.0,923.4 L1186.0,923.0 L1185.0,922.5 L1184.0,922.1 L1183.0,921.6 L1182.0,921.2 L1181.0,920.7 L1180.0,920.3 L1179.0,919.8 L1178.0,919.3 L1177.0,918.9 L1176.0,918.4 L1175.0,917.9 L1174.0,917.4 L1173.0,917.0 L1172.0,916.5 L1171.0,916.0 L1170.0,915.5 L1169.0,915.0 L1168.0,914.5 L1167.0,914.0 L1166.0,913.5 L1165.0,913.0 L1164.0,912.5 L1163.0,912.0 L1162.0,911.5 L1161.0,911.0 L1160.0,910.5 L1159.0,909.9 L1158.0,909.4 L1157.0,908.9 L1156.0,908.4 L1155.0,907.8 L1154.0,907.3 L1153.0,906.8 L1152.0,906.2 L1151.0,905.7 L1150.0,905.1 L1149.0,904.6 L1148.0,904.0 L1147.0,903.5 L1146.0,902.9 L1145.0,902.3 L1144.0,901.8 L1143.0,901.2 L1142.0,900.6 L1141.0,900.0 L1140.0,899.5 L1139.0,898.9 L1138.0,898.3 L1137.0,897.7 L1136.0,897.1 L1135.0,896.5 L1134.0,895.9 L1133.0,895.3 L1132.0,894.7 L1131.0,894.1 L1130.0,893.5 L1129.0,892.9 L1128.0,892.2 L1127.0,891.6 L1126.0,891.0 L1125.0,890.4 L1124.0,889.7 L1123.0,889.1 L1122.0,888.5 L1121.0,887.8 L1120.0,887.2 L1119.0,886.5 L1118.0,885.8 L1117.0,885.2 L1116.0,884.5 L1115.0,883.9 L1114.0,883.2 L1113.0,882.5 L1112.0,881.8 L1111.0,881.1 L1110.0,880.5 L1109.0,879.8 L1108.0,879.1 L1107.0,878.4 L1106.0,877.7 L1105.0,877.0 L1104.0,876.3 L1103.0,875.6 L1102.0,874.8 L1101.0,874.1 L1100.0,873.4 L1099.0,872.7 L1098.0,871.9 L1097.0,871.2 L1096.0,870.4 L1095.0,869.7 L1094.0,869.0 L1093.0,868.2 L1092.0,867.4 L1091.0,866.7 L1090.0,865.9 L1089.0,865.1 L1088.0,864.4 L1087.0,863.6 L1086.0,862.8 L1085.0,862.0 L1084.0,861.2 L1083.0,860.4 L1082.0,859.6 L1081.0,858.8 L1080.0,858.0 L1079.0,857.2 L1078.0,856.4 L1077.0,855.6 L1076.0,854.8 L1075.0,853.9 L1074.0,853.1 L1073.0,852.3 L1072.0,851.4 L1071.0,850.6 L1070.0,849.7 L1069.0,848.9 L1068.0,848.0 L1067.0,847.1 L1066.0,846.3 L1065.0,845.4 L1064.0,844.5 L1063.0,843.6 L1062.0,842.7 L1061.0,841.9 L1060.0,841.0 L1059.0,840.1 L1058.0,839.2 L1057.0,838.2 L1056.0,837.3 L1055.0,836.4 L1054.0,835.5 L1053.0,834.6 L1052.0,833.6 L1051.0,832.7 L1050.0,831.7 L1049.0,830.8 L1048.0,829.8 L1047.0,828.9 L1046.0,827.9 L1045.0,827.0 L1044.0,826.0 L1043.0,825.0 L1042.0,824.0 L1041.0,823.1 L1040.0,822.1 L1039.0,821.1 L1038.0,820.1 L1037.0,819.1 L1036.0,818.1 L1035.0,817.0 L1034.0,816.0 L1033.0,815.0 L1032.0,814.0 L1031.0,812.9 L1030.0,811.9 L1029.0,810.9 L1028.0,809.8 L1027.0,808.8 L1026.0,807.7 L1025.0,806.6 L1024.0,805.6 L1023.0,804.5 L1022.0,803.4 L1021.0,802.4 L1020.0,801.3 L1019.0,800.2 L1018.0,799.1 L1017.0,798.0 L1016.0,796.9 L1015.0,795.8 L1014.0,794.6 L1013.0,793.5 L1012.0,792.4 L1011.0,791.3 L1010.0,790.1 L1009.0,789.0 L1008.0,787.9 L1007.0,786.7 L1006.0,785.6 L1005.0,784.4 L1004.0,783.2 L1003.0,782.1 L1002.0,780.9 L1001.0,779.7 L1000.0,778.5 L999.0,777.3 L998.0,776.1 L997.0,774.9 L996.0,773.7 L995.0,772.5 L994.0,771.3 L993.0,770.1 L992.0,768.9 L991.0,767.7 L990.0,766.4 L989.0,765.2 L988.0,764.0 L987.0,762.7 L986.0,761.5 L985.0,760.2 L984.0,759.0 L983.0,757.7 L982.0,756.4 L981.0,755.2 L980.0,753.9 L979.0,752.6 L978.0,751.3 L977.0,750.0 L976.0,748.7 L975.0,747.4 L974.0,746.1 L973.0,744.8 L972.0,743.5 L971.0,742.2 L970.0,740.9 L969.0,739.5 L968.0,738.2 L967.0,736.9 L966.0,735.5 L965.0,734.2 L964.0,732.8 L963.0,731.5 L962.0,730.1 L961.0,728.8 L960.0,727.4 L959.0,726.1 L958.0,724.7 L957.0,723.3 L956.0,721.9 L955.0,720.5 L954.0,719.2 L953.0,717.8 L952.0,716.4 L951.0,715.0 L950.0,713.6 L949.0,712.2 L948.0,710.8 L947.0,709.4 L946.0,707.9 L945.0,706.5 L944.0,705.1 L943.0,703.7 L942.0,702.3 L941.0,700.8 L940.0,699.4 L939.0,697.9 L938.0,696.5 L937.0,695.1 L936.0,693.6 L935.0,692.2 L934.0,690.7 L933.0,689.3 L932.0,687.8 L931.0,686.3 L930.0,684.9 L929.0,683.4 L928.0,681.9 L927.0,680.5 L926.0,679.0 L925.0,677.5 L924.0,676.0 L923.0,674.6 L922.0,673.1 L921.0,671.6 L920.0,670.1 L919.0,668.6 L918.0,667.1 L917.0,665.6 L916.0,664.2 L915.0,662.7 L914.0,661.2 L913.0,659.7 L912.0,658.2 L911.0,656.7 L910.0,655.2 L909.0,653.7 L908.0,652.2 L907.0,650.7 L906.0,649.1 L905.0,647.6 L904.0,646.1 L903.0,644.6 L902.0,643.1 L901.0,641.6 L900.0,640.1 L899.0,638.6 L898.0,637.1 L897.0,635.6 L896.0,634.1 L895.0,632.6 L894.0,631.1 L893.0,629.5 L892.0,628.0 L891.0,626.5 L890.0,625.0 L889.0,623.5 L888.0,622.0 L887.0,620.5 L886.0,619.0 L885.0,617.5 L884.0,616.0 L883.0,614.5 L882.0,613.0 L881.0,611.5 L880.0,610.0 L879.0,608.5 L878.0,607.0 L877.0,605.5 L876.0,604.0 L875.0,602.6 L874.0,601.1 L873.0,599.6 L872.0,598.1 L871.0,596.6 L870.0,595.2 L869.0,593.7 L868.0,592.2 L867.0,590.8 L866.0,589.3 L865.0,587.9 L864.0,586.4 L863.0,585.0 L862.0,583.5 L861.0,582.1 L860.0,580.6 L859.0,579.2 L858.0,577.8 L857.0,576.3 L856.0,574.9 L855.0,573.5 L854.0,572.1 L853.0,570.7 L852.0,569.3 L851.0,567.9 L850.0,566.5 L849.0,565.1 L848.0,563.7 L847.0,562.4 L846.0,561.0 L845.0,559.6 L844.0,558.3 L843.0,556.9 L842.0,555.6 L841.0,554.2 L840.0,552.9 L839.0,551.6 L838.0,550.3 L837.0,549.0 L836.0,547.7 L835.0,546.4 L834.0,545.1 L833.0,543.8 L832.0,542.5 L831.0,541.3 L830.0,540.0 L829.0,538.7 L828.0,537.5 L827.0,536.3 L826.0,535.0 L825.0,533.8 L824.0,532.6 L823.0,531.4 L822.0,530.2 L821.0,529.0 L820.0,527.9 L819.0,526.7 L818.0,525.6 L817.0,524.4 L816.0,523.3 L815.0,522.2 L814.0,521.0 L813.0,519.9 L812.0,518.8 L811.0,517.8 L810.0,516.7 L809.0,515.6 L808.0,514.6 L807.0,513.5 L806.0,512.5 L805.0,511.5 L804.0,510.5 L803.0,509.5 L802.0,508.5 L801.0,507.5 L800.0,506.5 L799.0,505.6 L798.0,504.7 L797.0,503.7 L796.0,502.8 L795.0,501.9 L794.0,501.0 L793.0,500.1 L792.0,499.3 L791.0,498.4 L790.0,497.6 L789.0,496.8 L788.0,495.9 L787.0,495.1 L786.0,494.4 L785.0,493.6 L784.0,492.8 L783.0,492.1 L782.0,491.3 L781.0,490.6 L780.0,489.9 L779.0,489.2 L778.0,488.5 L777.0,487.9 L776.0,487.2 L775.0,486.6 L774.0,486.0 L773.0,485.3 L772.0,484.7 L771.0,484.2 L770.0,483.6 L769.0,483.1 L768.0,482.5 L767.0,482.0 L766.0,481.5 L765.0,481.0 L764.0,480.5 L763.0,480.1 L762.0,479.6 L761.0,479.2 L760.0,478.8 L759.0,478.4 L758.0,478.0 L757.0,477.6 L756.0,477.3 L755.0,476.9 L754.0,476.6 L753.0,476.3 L752.0,476.0 L751.0,475.7 L750.0,475.4 L749.0,475.2 L748.0,475.0 L747.0,474.8 L746.0,474.6 L745.0,474.4 L744.0,474.2 L743.0,474.1 L742.0,473.9 L741.0,473.8 L740.0,473.7 L739.0,473.6 L738.0,473.5 L737.0,473.5 L736.0,473.4 L735.0,473.4 L734.0,473.5 L733.0,473.5 L732.0,473.6 L731.0,473.7 L730.0,473.8 L729.0,473.9 L728.0,474.1 L727.0,474.2 L726.0,474.4 L725.0,474.6 L724.0,474.8 L723.0,475.0 L722.0,475.2 L721.0,475.5 L720.0,475.7 L719.0,476.0 L718.0,476.3 L717.0,476.6 L716.0,476.9 L715.0,477.3 L714.0,477.6 L713.0,478.0 L712.0,478.4 L711.0,478.8 L710.0,479.2 L709.0,479.6 L708.0,480.1 L707.0,480.5 L706.0,481.0 L705.0,481.5 L704.0,482.0 L703.0,482.5 L702.0,483.1 L701.0,483.6 L700.0,484.2 L699.0,484.8 L698.0,485.4 L697.0,486.0 L696.0,486.6 L695.0,487.2 L694.0,487.9 L693.0,488.5 L692.0,489.2 L691.0,489.9 L690.0,490.6 L689.0,491.3 L688.0,492.1 L687.0,492.8 L686.0,493.6 L685.0,494.4 L684.0,495.2 L683.0,496.0 L682.0,496.8 L681.0,497.6 L680.0,498.4 L679.0,499.3 L678.0,500.2 L677.0,501.0 L676.0,501.9 L675.0,502.8 L674.0,503.7 L673.0,504.7 L672.0,505.6 L671.0,506.6 L670.0,507.5 L669.0,508.5 L668.0,509.5 L667.0,510.5 L666.0,511.5 L665.0,512.5 L664.0,513.5 L663.0,514.6 L662.0,515.6 L661.0,516.7 L660.0,517.8 L659.0,518.9 L658.0,520.0 L657.0,521.1 L656.0,522.2 L655.0,523.3 L654.0,524.4 L653.0,525.6 L652.0,526.7 L651.0,527.9 L650.0,529.1 L649.0,530.2 L648.0,531.4 L647.0,532.6 L646.0,533.8 L645.0,535.1 L644.0,536.3 L643.0,537.5 L642.0,538.8 L641.0,540.0 L640.0,541.3 L639.0,542.5 L638.0,543.8 L637.0,545.1 L636.0,546.4 L635.0,547.7 L634.0,549.0 L633.0,550.3 L632.0,551.6 L631.0,552.9 L630.0,554.3 L629.0,555.6 L628.0,556.9 L627.0,558.3 L626.0,559.7 L625.0,561.0 L624.0,562.4 L623.0,563.8 L622.0,565.1 L621.0,566.5 L620.0,567.9 L619.0,569.3 L618.0,570.7 L617.0,572.1 L616.0,573.5 L615.0,574.9 L614.0,576.4 L613.0,577.8 L612.0,579.2 L611.0,580.7 L610.0,582.1 L609.0,583.5 L608.0,585.0 L607.0,586.4 L606.0,587.9 L605.0,589.3 L604.0,590.8 L603.0,592.3 L602.0,593.7 L601.0,595.2 L600.0,596.7 L599.0,598.1 L598.0,599.6 L597.0,601.1 L596.0,602.6 L595.0,604.1 L594.0,605.6 L593.0,607.0 L592.0,608.5 L591.0,610.0 L590.0,611.5 L589.0,613.0 L588.0,614.5 L587.0,616.0 L586.0,617.5 L585.0,619.0 L584.0,620.5 L583.0,622.0 L582.0,623.5 L581.0,625.0 L580.0,626.6 L579.0,628.1 L578.0,629.6 L577.0,631.1 L576.0,632.6 L575.0,634.1 L574.0,635.6 L573.0,637.1 L572.0,638.6 L571.0,640.1 L570.0,641.6 L569.0,643.1 L568.0,644.7 L567.0,646.2 L566.0,647.7 L565.0,649.2 L564.0,650.7 L563.0,652.2 L562.0,653.7 L561.0,655.2 L560.0,656.7 L559.0,658.2 L558.0,659.7 L557.0,661.2 L556.0,662.7 L555.0,664.2 L554.0,665.7 L553.0,667.2 L552.0,668.6 L551.0,670.1 L550.0,671.6 L549.0,673.1 L548.0,674.6 L547.0,676.1 L546.0,677.5 L545.0,679.0 L544.0,680.5 L543.0,682.0 L542.0,683.4 L541.0,684.9 L540.0,686.4 L539.0,687.8 L538.0,689.3 L537.0,690.7 L536.0,692.2 L535.0,693.6 L534.0,695.1 L533.0,696.5 L532.0,698.0 L531.0,699.4 L530.0,700.8 L529.0,702.3 L528.0,703.7 L527.0,705.1 L526.0,706.5 L525.0,708.0 L524.0,709.4 L523.0,710.8 L522.0,712.2 L521.0,713.6 L520.0,715.0 L519.0,716.4 L518.0,717.8 L517.0,719.2 L516.0,720.6 L515.0,722.0 L514.0,723.3 L513.0,724.7 L512.0,726.1 L511.0,727.4 L510.0,728.8 L509.0,730.2 L508.0,731.5 L507.0,732.9 L506.0,734.2 L505.0,735.6 L504.0,736.9 L503.0,738.2 L502.0,739.6 L501.0,740.9 L500.0,742.2 L499.0,743.5 L498.0,744.8 L497.0,746.1 L496.0,747.4 L495.0,748.7 L494.0,750.0 L493.0,751.3 L492.0,752.6 L491.0,753.9 L490.0,755.2 L489.0,756.4 L488.0,757.7 L487.0,759.0 L486.0,760.2 L485.0,761.5 L484.0,762.7 L483.0,764.0 L482.0,765.2 L481.0,766.5 L480.0,767.7 L479.0,768.9 L478.0,770.1 L477.0,771.3 L476.0,772.6 L475.0,773.8 L474.0,775.0 L473.0,776.2 L472.0,777.4 L471.0,778.5 L470.0,779.7 L469.0,780.9 L468.0,782.1 L467.0,783.2 L466.0,784.4 L465.0,785.6 L464.0,786.7 L463.0,787.9 L462.0,789.0 L461.0,790.2 L460.0,791.3 L459.0,792.4 L458.0,793.5 L457.0,794.7 L456.0,795.8 L455.0,796.9 L454.0,798.0 L453.0,799.1 L452.0,800.2 L451.0,801.3 L450.0,802.4 L449.0,803.4 L448.0,804.5 L447.0,805.6 L446.0,806.7 L445.0,807.7 L444.0,808.8 L443.0,809.8 L442.0,810.9 L441.0,811.9 L440.0,813.0 L439.0,814.0 L438.0,815.0 L437.0,816.0 L436.0,817.1 L435.0,818.1 L434.0,819.1 L433.0,820.1 L432.0,821.1 L431.0,822.1 L430.0,823.1 L429.0,824.1 L428.0,825.0 L427.0,826.0 L426.0,827.0 L425.0,827.9 L424.0,828.9 L423.0,829.9 L422.0,830.8 L421.0,831.8 L420.0,832.7 L419.0,833.6 L418.0,834.6 L417.0,835.5 L416.0,836.4 L415.0,837.3 L414.0,838.3 L413.0,839.2 L412.0,840.1 L411.0,841.0 L410.0,841.9 L409.0,842.8 L408.0,843.6 L407.0,844.5 L406.0,845.4 L405.0,846.3 L404.0,847.1 L403.0,848.0 L402.0,848.9 L401.0,849.7 L400.0,850.6 L399.0,851.4 L398.0,852.3 L397.0,853.1 L396.0,853.9 L395.0,854.8 L394.0,855.6 L393.0,856.4 L392.0,857.2 L391.0,858.0 L390.0,858.9 L389.0,859.7 L388.0,860.5 L387.0,861.2 L386.0,862.0 L385.0,862.8 L384.0,863.6 L383.0,864.4 L382.0,865.2 L381.0,865.9 L380.0,866.7 L379.0,867.5 L378.0,868.2 L377.0,869.0 L376.0,869.7 L375.0,870.5 L374.0,871.2 L373.0,871.9 L372.0,872.7 L371.0,873.4 L370.0,874.1 L369.0,874.8 L368.0,875.6 L367.0,876.3 L366.0,877.0 L365.0,877.7 L364.0,878.4 L363.0,879.1 L362.0,879.8 L361.0,880.5 L360.0,881.2 L359.0,881.8 L358.0,882.5 L357.0,883.2 L356.0,883.9 L355.0,884.5 L354.0,885.2 L353.0,885.9 L352.0,886.5 L351.0,887.2 L350.0,887.8 L349.0,888.5 L348.0,889.1 L347.0,889.7 L346.0,890.4 L345.0,891.0 L344.0,891.6 L343.0,892.3 L342.0,892.9 L341.0,893.5 L340.0,894.1 L339.0,894.7 L338.0,895.3 L337.0,895.9 L336.0,896.5 L335.0,897.1 L334.0,897.7 L333.0,898.3 L332.0,898.9 L331.0,899.5 L330.0,900.1 L329.0,900.6 L328.0,901.2 L327.0,901.8 L326.0,902.3 L325.0,902.9 L324.0,903.5 L323.0,904.0 L322.0,904.6 L321.0,905.1 L320.0,905.7 L319.0,906.2 L318.0,906.8 L317.0,907.3 L316.0,907.8 L315.0,908.4 L314.0,908.9 L313.0,909.4 L312.0,909.9 L311.0,910.5 L310.0,911.0 L309.0,911.5 L308.0,912.0 L307.0,912.5 L306.0,913.0 L305.0,913.5 L304.0,914.0 L303.0,914.5 L302.0,915.0 L301.0,915.5 L300.0,916.0 L299.0,916.5 L298.0,917.0 L297.0,917.4 L296.0,917.9 L295.0,918.4 L294.0,918.9 L293.0,919.3 L292.0,919.8 L291.0,920.3 L290.0,920.7 L289.0,921.2 L288.0,921.6 L287.0,922.1 L286.0,922.5 L285.0,923.0 L284.0,923.4 L283.0,923.9 L282.0,924.3 L281.0,924.7 L280.0,925.2 L279.0,925.6 L278.0,926.0 L277.0,926.5 L276.0,926.9 L275.0,927.3 L274.0,927.7 L273.0,928.2 L272.0,928.6 L271.0,929.0 L270.0,929.4 L269.0,929.8 L268.0,930.2 L267.0,930.6 L266.0,931.0 L265.0,931.4 L264.0,931.8 L263.0,932.2 L262.0,932.6 L261.0,933.0 L260.0,933.4 L259.0,933.8 L258.0,934.1 L257.0,934.5 L256.0,934.9 L255.0,935.3 L254.0,935.6 L253.0,936.0 L252.0,936.4 L251.0,936.8 L250.0,937.1 L249.0,937.5 L248.0,937.8 L247.0,938.2 L246.0,938.6 L245.0,938.9 L244.0,939.3 L243.0,939.6 L242.0,940.0 L241.0,940.3 L240.0,940.7 L239.0,941.0 L238.0,941.3 L237.0,941.7 L236.0,942.0 L235.0,942.3 L234.0,942.7 L233.0,943.0 L232.0,943.3 L231.0,943.7 L230.0,944.0 L229.0,944.3 L228.0,944.6 L227.0,945.0 L226.0,945.3 L225.0,945.6 L224.0,945.9 L223.0,946.2 L222.0,946.5 L221.0,946.8 L220.0,947.1 L219.0,947.4 L218.0,947.8 L217.0,948.1 L216.0,948.4 L215.0,948.7 L214.0,948.9 L213.0,949.2 L212.0,949.5 L211.0,949.8 L210.0,950.1 L209.0,950.4 L208.0,950.7 L207.0,951.0 L206.0,951.3 L205.0,951.5 L204.0,951.8 L203.0,952.1 L202.0,952.4 L201.0,952.6 L200.0,952.9 L199.0,953.2 L198.0,953.5 L197.0,953.7 L196.0,954.0 L195.0,954.3 L194.0,954.5 L193.0,954.8 L192.0,955.1 L191.0,955.3 L190.0,955.6 L189.0,955.8 L188.0,956.1 L187.0,956.3 L186.0,956.6 L185.0,956.8 L184.0,957.1 L183.0,957.3 L182.0,957.6 L181.0,957.8 L180.0,958.1 L179.0,958.3 L178.0,958.6 L177.0,958.8 L176.0,959.0 L175.0,959.3 L174.0,959.3 L173.0,959.3 Z" fill="#000"/><path d="M173.0,954.1 L174.0,953.9 L175.0,953.6 L176.0,953.4 L177.0,953.1 L178.0,952.8 L179.0,952.6 L180.0,952.3 L181.0,952.1 L182.0,951.8 L183.0,951.5 L184.0,951.3 L185.0,951.0 L186.0,950.7 L187.0,950.5 L188.0,950.2 L189.0,949.9 L190.0,949.6 L191.0,949.4 L192.0,949.1 L193.0,948.8 L194.0,948.5 L195.0,948.2 L196.0,947.9 L197.0,947.7 L198.0,947.4 L199.0,947.1 L200.0,946.8 L201.0,946.5 L202.0,946.2 L203.0,945.9 L204.0,945.6 L205.0,945.3 L206.0,945.0 L207.0,944.7 L208.0,944.4 L209.0,944.1 L210.0,943.7 L211.0,943.4 L212.0,943.1 L213.0,942.8 L214.0,942.5 L215.0,942.1 L216.0,941.8 L217.0,941.5 L218.0,941.2 L219.0,940.8 L220.0,940.5 L221.0,940.2 L222.0,939.8 L223.0,939.5 L224.0,939.1 L225.0,938.8 L226.0,938.5 L227.0,938.1 L228.0,937.8 L229.0,937.4 L230.0,937.0 L231.0,936.7 L232.0,936.3 L233.0,936.0 L234.0,935.6 L235.0,935.2 L236.0,934.9 L237.0,934.5 L238.0,934.1 L239.0,933.8 L240.0,933.4 L241.0,933.0 L242.0,932.6 L243.0,932.2 L244.0,931.8 L245.0,931.4 L246.0,931.1 L247.0,930.7 L248.0,930.3 L249.0,929.9 L250.0,929.5 L251.0,929.1 L252.0,928.6 L253.0,928.2 L254.0,927.8 L255.0,927.4 L256.0,927.0 L257.0,926.6 L258.0,926.1 L259.0,925.7 L260.0,925.3 L261.0,924.9 L262.0,924.4 L263.0,924.0 L264.0,923.5 L265.0,923.1 L266.0,922.7 L267.0,922.2 L268.0,921.7 L269.0,921.3 L270.0,920.8 L271.0,920.4 L272.0,919.9 L273.0,919.4 L274.0,919.0 L275.0,918.5 L276.0,918.0 L277.0,917.6 L278.0,917.1 L279.0,916.6 L280.0,916.1 L281.0,915.6 L282.0,915.1 L283.0,914.6 L284.0,914.1 L285.0,913.6 L286.0,913.1 L287.0,912.6 L288.0,912.1 L289.0,911.6 L290.0,911.0 L291.0,910.5 L292.0,910.0 L293.0,909.5 L294.0,908.9 L295.0,908.4 L296.0,907.9 L297.0,907.3 L298.0,906.8 L299.0,906.2 L300.0,905.7 L301.0,905.1 L302.0,904.5 L303.0,904.0 L304.0,903.4 L305.0,902.8 L306.0,902.3 L307.0,901.7 L308.0,901.1 L309.0,900.5 L310.0,899.9 L311.0,899.3 L312.0,898.7 L313.0,898.1 L314.0,897.5 L315.0,896.9 L316.0,896.3 L317.0,895.7 L318.0,895.1 L319.0,894.4 L320.0,893.8 L321.0,893.2 L322.0,892.5 L323.0,891.9 L324.0,891.3 L325.0,890.6 L326.0,889.9 L327.0,889.3 L328.0,888.6 L329.0,888.0 L330.0,887.3 L331.0,886.6 L332.0,885.9 L333.0,885.3 L334.0,884.6 L335.0,883.9 L336.0,883.2 L337.0,882.5 L338.0,881.8 L339.0,881.1 L340.0,880.4 L341.0,879.6 L342.0,878.9 L343.0,878.2 L344.0,877.4 L345.0,876.7 L346.0,876.0 L347.0,875.2 L348.0,874.5 L349.0,873.7 L350.0,873.0 L351.0,872.2 L352.0,871.4 L353.0,870.6 L354.0,869.9 L355.0,869.1 L356.0,868.3 L357.0,867.5 L358.0,866.7 L359.0,865.9 L360.0,865.1 L361.0,864.3 L362.0,863.5 L363.0,862.6 L364.0,861.8 L365.0,861.0 L366.0,860.1 L367.0,859.3 L368.0,858.4 L369.0,857.6 L370.0,856.7 L371.0,855.8 L372.0,855.0 L373.0,854.1 L374.0,853.2 L375.0,852.3 L376.0,851.4 L377.0,850.5 L378.0,849.6 L379.0,848.7 L380.0,847.8 L381.0,846.9 L382.0,846.0 L383.0,845.0 L384.0,844.1 L385.0,843.1 L386.0,842.2 L387.0,841.2 L388.0,840.3 L389.0,839.3 L390.0,838.3 L391.0,837.4 L392.0,836.4 L393.0,835.4 L394.0,834.4 L395.0,833.4 L396.0,832.4 L397.0,831.4 L398.0,830.3 L399.0,829.3 L400.0,828.3 L401.0,827.2 L402.0,826.2 L403.0,825.1 L404.0,824.1 L405.0,823.0 L406.0,821.9 L407.0,820.9 L408.0,819.8 L409.0,818.7 L410.0,817.6 L411.0,816.5 L412.0,815.4 L413.0,814.3 L414.0,813.2 L415.0,812.0 L416.0,810.9 L417.0,809.8 L418.0,808.6 L419.0,807.5 L420.0,806.3 L421.0,805.1 L422.0,804.0 L423.0,802.8 L424.0,801.6 L425.0,800.4 L426.0,799.2 L427.0,798.0 L428.0,796.8 L429.0,795.5 L430.0,794.3 L431.0,793.1 L432.0,791.8 L433.0,790.6 L434.0,789.3 L435.0,788.1 L436.0,786.8 L437.0,785.5 L438.0,784.2 L439.0,783.0 L440.0,781.7 L441.0,780.4 L442.0,779.0 L443.0,777.7 L444.0,776.4 L445.0,775.1 L446.0,773.7 L447.0,772.4 L448.0,771.0 L449.0,769.7 L450.0,768.3 L451.0,766.9 L452.0,765.5 L453.0,764.1 L454.0,762.7 L455.0,761.3 L456.0,759.9 L457.0,758.5 L458.0,757.1 L459.0,755.6 L460.0,754.2 L461.0,752.7 L462.0,751.3 L463.0,749.8 L464.0,748.4 L465.0,746.9 L466.0,745.4 L467.0,743.9 L468.0,742.4 L469.0,740.9 L470.0,739.4 L471.0,737.9 L472.0,736.3 L473.0,734.8 L474.0,733.2 L475.0,731.7 L476.0,730.1 L477.0,728.6 L478.0,727.0 L479.0,725.4 L480.0,723.8 L481.0,722.2 L482.0,720.6 L483.0,719.0 L484.0,717.4 L485.0,715.8 L486.0,714.1 L487.0,712.5 L488.0,710.8 L489.0,709.2 L490.0,707.5 L491.0,705.9 L492.0,704.2 L493.0,702.5 L494.0,700.8 L495.0,699.1 L496.0,697.4 L497.0,695.7 L498.0,694.0 L499.0,692.2 L500.0,690.5 L501.0,688.8 L502.0,687.0 L503.0,685.3 L504.0,683.5 L505.0,681.7 L506.0,680.0 L507.0,678.2 L508.0,676.4 L509.0,674.6 L510.0,672.8 L511.0,671.0 L512.0,669.2 L513.0,667.4 L514.0,665.5 L515.0,663.7 L516.0,661.8 L517.0,660.0 L518.0,658.1 L519.0,656.3 L520.0,654.4 L521.0,652.5 L522.0,650.7 L523.0,648.8 L524.0,646.9 L525.0,645.0 L526.0,643.1 L527.0,641.2 L528.0,639.2 L529.0,637.3 L530.0,635.4 L531.0,633.5 L532.0,631.5 L533.0,629.6 L534.0,627.6 L535.0,625.7 L536.0,623.7 L537.0,621.7 L538.0,619.8 L539.0,617.8 L540.0,615.8 L541.0,613.8 L542.0,611.8 L543.0,609.8 L544.0,607.8 L545.0,605.8 L546.0,603.8 L547.0,601.8 L548.0,599.8 L549.0,597.7 L550.0,595.7 L551.0,593.7 L552.0,591.6 L553.0,589.6 L554.0,587.6 L555.0,585.5 L556.0,583.5 L557.0,581.4 L558.0,579.3 L559.0,577.3 L560.0,575.2 L561.0,573.1 L562.0,571.1 L563.0,569.0 L564.0,566.9 L565.0,564.8 L566.0,562.8 L567.0,560.7 L568.0,558.6 L569.0,556.5 L570.0,554.4 L571.0,552.3 L572.0,550.2 L573.0,548.1 L574.0,546.0 L575.0,543.9 L576.0,541.8 L577.0,539.7 L578.0,537.6 L579.0,535.5 L580.0,533.4 L581.0,531.3 L582.0,529.2 L583.0,527.1 L584.0,525.0 L585.0,522.9 L586.0,520.8 L587.0,518.7 L588.0,516.6 L589.0,514.5 L590.0,512.4 L591.0,510.3 L592.0,508.2 L593.0,506.1 L594.0,504.0 L595.0,501.9 L596.0,499.8 L597.0,497.7 L598.0,495.6 L599.0,493.6 L600.0,491.5 L601.0,489.4 L602.0,487.3 L603.0,485.2 L604.0,483.2 L605.0,481.1 L606.0,479.0 L607.0,477.0 L608.0,474.9 L609.0,472.9 L610.0,470.8 L611.0,468.8 L612.0,466.8 L613.0,464.7 L614.0,462.7 L615.0,460.7 L616.0,458.7 L617.0,456.7 L618.0,454.7 L619.0,452.7 L620.0,450.7 L621.0,448.7 L622.0,446.7 L623.0,444.8 L624.0,442.8 L625.0,440.8 L626.0,438.9 L627.0,437.0 L628.0,435.0 L629.0,433.1 L630.0,431.2 L631.0,429.3 L632.0,427.4 L633.0,425.5 L634.0,423.6 L635.0,421.8 L636.0,419.9 L637.0,418.1 L638.0,416.2 L639.0,414.4 L640.0,412.6 L641.0,410.8 L642.0,409.0 L643.0,407.2 L644.0,405.4 L645.0,403.7 L646.0,401.9 L647.0,400.2 L648.0,398.5 L649.0,396.7 L650.0,395.0 L651.0,393.4 L652.0,391.7 L653.0,390.0 L654.0,388.4 L655.0,386.8 L656.0,385.1 L657.0,383.5 L658.0,381.9 L659.0,380.4 L660.0,378.8 L661.0,377.3 L662.0,375.7 L663.0,374.2 L664.0,372.7 L665.0,371.3 L666.0,369.8 L667.0,368.3 L668.0,366.9 L669.0,365.5 L670.0,364.1 L671.0,362.7 L672.0,361.3 L673.0,360.0 L674.0,358.7 L675.0,357.4 L676.0,356.1 L677.0,354.8 L678.0,353.5 L679.0,352.3 L680.0,351.1 L681.0,349.9 L682.0,348.7 L683.0,347.5 L684.0,346.4 L685.0,345.3 L686.0,344.2 L687.0,343.1 L688.0,342.0 L689.0,341.0 L690.0,339.9 L691.0,338.9 L692.0,338.0 L693.0,337.0 L694.0,336.1 L695.0,335.1 L696.0,334.2 L697.0,333.4 L698.0,332.5 L699.0,331.7 L700.0,330.9 L701.0,330.1 L702.0,329.3 L703.0,328.5 L704.0,327.8 L705.0,327.1 L706.0,326.4 L707.0,325.8 L708.0,325.1 L709.0,324.5 L710.0,323.9 L711.0,323.4 L712.0,322.8 L713.0,322.3 L714.0,321.8 L715.0,321.3 L716.0,320.9 L717.0,320.5 L718.0,320.1 L719.0,319.7 L720.0,319.3 L721.0,319.0 L722.0,318.7 L723.0,318.4 L724.0,318.1 L725.0,317.9 L726.0,317.7 L727.0,317.5 L728.0,317.3 L729.0,317.2 L730.0,317.0 L731.0,316.9 L732.0,316.9 L733.0,316.8 L734.0,316.8 L735.0,316.8 L736.0,316.8 L737.0,316.8 L738.0,316.8 L739.0,316.8 L740.0,316.9 L741.0,316.9 L742.0,317.0 L743.0,317.2 L744.0,317.3 L745.0,317.5 L746.0,317.7 L747.0,317.9 L748.0,318.1 L749.0,318.4 L750.0,318.7 L751.0,319.0 L752.0,319.3 L753.0,319.7 L754.0,320.1 L755.0,320.5 L756.0,320.9 L757.0,321.3 L758.0,321.8 L759.0,322.3 L760.0,322.8 L761.0,323.4 L762.0,323.9 L763.0,324.5 L764.0,325.1 L765.0,325.8 L766.0,326.4 L767.0,327.1 L768.0,327.8 L769.0,328.5 L770.0,329.3 L771.0,330.1 L772.0,330.9 L773.0,331.7 L774.0,332.5 L775.0,333.4 L776.0,334.2 L777.0,335.1 L778.0,336.1 L779.0,337.0 L780.0,338.0 L781.0,338.9 L782.0,339.9 L783.0,341.0 L784.0,342.0 L785.0,343.1 L786.0,344.2 L787.0,345.3 L788.0,346.4 L789.0,347.5 L790.0,348.7 L791.0,349.9 L792.0,351.1 L793.0,352.3 L794.0,353.5 L795.0,354.8 L796.0,356.1 L797.0,357.4 L798.0,358.7 L799.0,360.0 L800.0,361.3 L801.0,362.7 L802.0,364.1 L803.0,365.5 L804.0,366.9 L805.0,368.3 L806.0,369.8 L807.0,371.3 L808.0,372.7 L809.0,374.2 L810.0,375.7 L811.0,377.3 L812.0,378.8 L813.0,380.4 L814.0,381.9 L815.0,383.5 L816.0,385.1 L817.0,386.8 L818.0,388.4 L819.0,390.0 L820.0,391.7 L821.0,393.4 L822.0,395.0 L823.0,396.7 L824.0,398.5 L825.0,400.2 L826.0,401.9 L827.0,403.7 L828.0,405.4 L829.0,407.2 L830.0,409.0 L831.0,410.8 L832.0,412.6 L833.0,414.4 L834.0,416.2 L835.0,418.1 L836.0,419.9 L837.0,421.8 L838.0,423.6 L839.0,425.5 L840.0,427.4 L841.0,429.3 L842.0,431.2 L843.0,433.1 L844.0,435.0 L845.0,437.0 L846.0,438.9 L847.0,440.8 L848.0,442.8 L849.0,444.8 L850.0,446.7 L851.0,448.7 L852.0,450.7 L853.0,452.7 L854.0,454.7 L855.0,456.7 L856.0,458.7 L857.0,460.7 L858.0,462.7 L859.0,464.7 L860.0,466.8 L861.0,468.8 L862.0,470.8 L863.0,472.9 L864.0,474.9 L865.0,477.0 L866.0,479.0 L867.0,481.1 L868.0,483.2 L869.0,485.2 L870.0,487.3 L871.0,489.4 L872.0,491.5 L873.0,493.6 L874.0,495.6 L875.0,497.7 L876.0,499.8 L877.0,501.9 L878.0,504.0 L879.0,506.1 L880.0,508.2 L881.0,510.3 L882.0,512.4 L883.0,514.5 L884.0,516.6 L885.0,518.7 L886.0,520.8 L887.0,522.9 L888.0,525.0 L889.0,527.1 L890.0,529.2 L891.0,531.3 L892.0,533.4 L893.0,535.5 L894.0,537.6 L895.0,539.7 L896.0,541.8 L897.0,543.9 L898.0,546.0 L899.0,548.1 L900.0,550.2 L901.0,552.3 L902.0,554.4 L903.0,556.5 L904.0,558.6 L905.0,560.7 L906.0,562.8 L907.0,564.8 L908.0,566.9 L909.0,569.0 L910.0,571.1 L911.0,573.1 L912.0,575.2 L913.0,577.3 L914.0,579.3 L915.0,581.4 L916.0,583.5 L917.0,585.5 L918.0,587.6 L919.0,589.6 L920.0,591.6 L921.0,593.7 L922.0,595.7 L923.0,597.7 L924.0,599.8 L925.0,601.8 L926.0,603.8 L927.0,605.8 L928.0,607.8 L929.0,609.8 L930.0,611.8 L931.0,613.8 L932.0,615.8 L933.0,617.8 L934.0,619.8 L935.0,621.7 L936.0,623.7 L937.0,625.7 L938.0,627.6 L939.0,629.6 L940.0,631.5 L941.0,633.5 L942.0,635.4 L943.0,637.3 L944.0,639.2 L945.0,641.2 L946.0,643.1 L947.0,645.0 L948.0,646.9 L949.0,648.8 L950.0,650.7 L951.0,652.5 L952.0,654.4 L953.0,656.3 L954.0,658.1 L955.0,660.0 L956.0,661.8 L957.0,663.7 L958.0,665.5 L959.0,667.4 L960.0,669.2 L961.0,671.0 L962.0,672.8 L963.0,674.6 L964.0,676.4 L965.0,678.2 L966.0,680.0 L967.0,681.7 L968.0,683.5 L969.0,685.3 L970.0,687.0 L971.0,688.8 L972.0,690.5 L973.0,692.2 L974.0,694.0 L975.0,695.7 L976.0,697.4 L977.0,699.1 L978.0,700.8 L979.0,702.5 L980.0,704.2 L981.0,705.9 L982.0,707.5 L983.0,709.2 L984.0,710.8 L985.0,712.5 L986.0,714.1 L987.0,715.8 L988.0,717.4 L989.0,719.0 L990.0,720.6 L991.0,722.2 L992.0,723.8 L993.0,725.4 L994.0,727.0 L995.0,728.6 L996.0,730.1 L997.0,731.7 L998.0,733.2 L999.0,734.8 L1000.0,736.3 L1001.0,737.9 L1002.0,739.4 L1003.0,740.9 L1004.0,742.4 L1005.0,743.9 L1006.0,745.4 L1007.0,746.9 L1008.0,748.4 L1009.0,749.8 L1010.0,751.3 L1011.0,752.7 L1012.0,754.2 L1013.0,755.6 L1014.0,757.1 L1015.0,758.5 L1016.0,759.9 L1017.0,761.3 L1018.0,762.7 L1019.0,764.1 L1020.0,765.5 L1021.0,766.9 L1022.0,768.3 L1023.0,769.7 L1024.0,771.0 L1025.0,772.4 L1026.0,773.7 L1027.0,775.1 L1028.0,776.4 L1029.0,777.7 L1030.0,779.0 L1031.0,780.4 L1032.0,781.7 L1033.0,783.0 L1034.0,784.2 L1035.0,785.5 L1036.0,786.8 L1037.0,788.1 L1038.0,789.3 L1039.0,790.6 L1040.0,791.8 L1041.0,793.1 L1042.0,794.3 L1043.0,795.5 L1044.0,796.8 L1045.0,798.0 L1046.0,799.2 L1047.0,800.4 L1048.0,801.6 L1049.0,802.8 L1050.0,804.0 L1051.0,805.1 L1052.0,806.3 L1053.0,807.5 L1054.0,808.6 L1055.0,809.8 L1056.0,810.9 L1057.0,812.0 L1058.0,813.2 L1059.0,814.3 L1060.0,815.4 L1061.0,816.5 L1062.0,817.6 L1063.0,818.7 L1064.0,819.8 L1065.0,820.9 L1066.0,821.9 L1067.0,823.0 L1068.0,824.1 L1069.0,825.1 L1070.0,826.2 L1071.0,827.2 L1072.0,828.3 L1073.0,829.3 L1074.0,830.3 L1075.0,831.4 L1076.0,832.4 L1077.0,833.4 L1078.0,834.4 L1079.0,835.4 L1080.0,836.4 L1081.0,837.4 L1082.0,838.3 L1083.0,839.3 L1084.0,840.3 L1085.0,841.2 L1086.0,842.2 L1087.0,843.1 L1088.0,844.1 L1089.0,845.0 L1090.0,846.0 L1091.0,846.9 L1092.0,847.8 L1093.0,848.7 L1094.0,849.6 L1095.0,850.5 L1096.0,851.4 L1097.0,852.3 L1098.0,853.2 L1099.0,854.1 L1100.0,855.0 L1101.0,855.8 L1102.0,856.7 L1103.0,857.6 L1104.0,858.4 L1105.0,859.3 L1106.0,860.1 L1107.0,861.0 L1108.0,861.8 L1109.0,862.6 L1110.0,863.5 L1111.0,864.3 L1112.0,865.1 L1113.0,865.9 L1114.0,866.7 L1115.0,867.5 L1116.0,868.3 L1117.0,869.1 L1118.0,869.9 L1119.0,870.6 L1120.0,871.4 L1121.0,872.2 L1122.0,873.0 L1123.0,873.7 L1124.0,874.5 L1125.0,875.2 L1126.0,876.0 L1127.0,876.7 L1128.0,877.4 L1129.0,878.2 L1130.0,878.9 L1131.0,879.6 L1132.0,880.4 L1133.0,881.1 L1134.0,881.8 L1135.0,882.5 L1136.0,883.2 L1137.0,883.9 L1138.0,884.6 L1139.0,885.3 L1140.0,885.9 L1141.0,886.6 L1142.0,887.3 L1143.0,888.0 L1144.0,888.6 L1145.0,889.3 L1146.0,889.9 L1147.0,890.6 L1148.0,891.3 L1149.0,891.9 L1150.0,892.5 L1151.0,893.2 L1152.0,893.8 L1153.0,894.4 L1154.0,895.1 L1155.0,895.7 L1156.0,896.3 L1157.0,896.9 L1158.0,897.5 L1159.0,898.1 L1160.0,898.7 L1161.0,899.3 L1162.0,899.9 L1163.0,900.5 L1164.0,901.1 L1165.0,901.7 L1166.0,902.3 L1167.0,902.8 L1168.0,903.4 L1169.0,904.0 L1170.0,904.5 L1171.0,905.1 L1172.0,905.7 L1173.0,906.2 L1174.0,906.8 L1175.0,907.3 L1176.0,907.9 L1177.0,908.4 L1178.0,908.9 L1179.0,909.5 L1180.0,910.0 L1181.0,910.5 L1182.0,911.0 L1183.0,911.6 L1184.0,912.1 L1185.0,912.6 L1186.0,913.1 L1187.0,913.6 L1188.0,914.1 L1189.0,914.6 L1190.0,915.1 L1191.0,915.6 L1192.0,916.1 L1193.0,916.6 L1194.0,917.1 L1195.0,917.6 L1196.0,918.0 L1197.0,918.5 L1198.0,919.0 L1199.0,919.4 L1200.0,919.9 L1201.0,920.4 L1202.0,920.8 L1203.0,921.3 L1204.0,921.7 L1205.0,922.2 L1206.0,922.7 L1207.0,923.1 L1208.0,923.5 L1209.0,924.0 L1210.0,924.4 L1211.0,924.9 L1212.0,925.3 L1213.0,925.7 L1214.0,926.1 L1215.0,926.6 L1216.0,927.0 L1217.0,927.4 L1218.0,927.8 L1219.0,928.2 L1220.0,928.6 L1221.0,929.1 L1222.0,929.5 L1223.0,929.9 L1224.0,930.3 L1225.0,930.7 L1226.0,931.1 L1227.0,931.4 L1228.0,931.8 L1229.0,932.2 L1230.0,932.6 L1231.0,933.0 L1232.0,933.4 L1233.0,933.8 L1234.0,934.1 L1235.0,934.5 L1236.0,934.9 L1237.0,935.2 L1238.0,935.6 L1239.0,936.0 L1240.0,936.3 L1241.0,936.7 L1242.0,937.0 L1243.0,937.4 L1244.0,937.8 L1245.0,938.1 L1246.0,938.5 L1247.0,938.8 L1248.0,939.1 L1249.0,939.5 L1250.0,939.8 L1251.0,940.2 L1252.0,940.5 L1253.0,940.8 L1254.0,941.2 L1255.0,941.5 L1256.0,941.8 L1257.0,942.1 L1258.0,942.5 L1259.0,942.8 L1260.0,943.1 L1261.0,943.4 L1262.0,943.7 L1263.0,944.1 L1264.0,944.4 L1265.0,944.7 L1266.0,945.0 L1267.0,945.3 L1268.0,945.6 L1269.0,945.9 L1270.0,946.2 L1271.0,946.5 L1272.0,946.8 L1273.0,947.1 L1274.0,947.4 L1275.0,947.7 L1276.0,947.9 L1277.0,948.2 L1278.0,948.5 L1279.0,948.8 L1280.0,949.1 L1281.0,949.4 L1282.0,949.6 L1283.0,949.9 L1284.0,950.2 L1285.0,950.5 L1286.0,950.7 L1287.0,951.0 L1288.0,951.3 L1289.0,951.5 L1290.0,951.8 L1291.0,952.1 L1292.0,952.3 L1293.0,952.6 L1294.0,952.8 L1295.0,953.1 L1296.0,953.4 L1297.0,953.6 L1298.0,953.9 L1299.0,954.1 L1300.0,954.4 L1300.0,957.4 L1299.0,957.4 L1298.0,957.4 L1297.0,957.4 L1296.0,957.1 L1295.0,956.9 L1294.0,956.6 L1293.0,956.4 L1292.0,956.1 L1291.0,955.8 L1290.0,955.6 L1289.0,955.3 L1288.0,955.1 L1287.0,954.8 L1286.0,954.5 L1285.0,954.3 L1284.0,954.0 L1283.0,953.7 L1282.0,953.5 L1281.0,953.2 L1280.0,952.9 L1279.0,952.6 L1278.0,952.4 L1277.0,952.1 L1276.0,951.8 L1275.0,951.5 L1274.0,951.2 L1273.0,950.9 L1272.0,950.7 L1271.0,950.4 L1270.0,950.1 L1269.0,949.8 L1268.0,949.5 L1267.0,949.2 L1266.0,948.9 L1265.0,948.6 L1264.0,948.3 L1263.0,948.0 L1262.0,947.7 L1261.0,947.4 L1260.0,947.1 L1259.0,946.7 L1258.0,946.4 L1257.0,946.1 L1256.0,945.8 L1255.0,945.5 L1254.0,945.1 L1253.0,944.8 L1252.0,944.5 L1251.0,944.2 L1250.0,943.8 L1249.0,943.5 L1248.0,943.2 L1247.0,942.8 L1246.0,942.5 L1245.0,942.1 L1244.0,941.8 L1243.0,941.5 L1242.0,941.1 L1241.0,940.8 L1240.0,940.4 L1239.0,940.0 L1238.0,939.7 L1237.0,939.3 L1236.0,939.0 L1235.0,938.6 L1234.0,938.2 L1233.0,937.9 L1232.0,937.5 L1231.0,937.1 L1230.0,936.8 L1229.0,936.4 L1228.0,936.0 L1227.0,935.6 L1226.0,935.2 L1225.0,934.8 L1224.0,934.4 L1223.0,934.1 L1222.0,933.7 L1221.0,933.3 L1220.0,932.9 L1219.0,932.5 L1218.0,932.1 L1217.0,931.6 L1216.0,931.2 L1215.0,930.8 L1214.0,930.4 L1213.0,930.0 L1212.0,929.6 L1211.0,929.1 L1210.0,928.7 L1209.0,928.3 L1208.0,927.9 L1207.0,927.4 L1206.0,927.0 L1205.0,926.5 L1204.0,926.1 L1203.0,925.7 L1202.0,925.2 L1201.0,924.7 L1200.0,924.3 L1199.0,923.8 L1198.0,923.4 L1197.0,922.9 L1196.0,922.4 L1195.0,922.0 L1194.0,921.5 L1193.0,921.0 L1192.0,920.6 L1191.0,920.1 L1190.0,919.6 L1189.0,919.1 L1188.0,918.6 L1187.0,918.1 L1186.0,917.6 L1185.0,917.1 L1184.0,916.6 L1183.0,916.1 L1182.0,915.6 L1181.0,915.1 L1180.0,914.6 L1179.0,914.0 L1178.0,913.5 L1177.0,913.0 L1176.0,912.5 L1175.0,911.9 L1174.0,911.4 L1173.0,910.9 L1172.0,910.3 L1171.0,909.8 L1170.0,909.2 L1169.0,908.7 L1168.0,908.1 L1167.0,907.5 L1166.0,907.0 L1165.0,906.4 L1164.0,905.8 L1163.0,905.3 L1162.0,904.7 L1161.0,904.1 L1160.0,903.5 L1159.0,902.9 L1158.0,902.3 L1157.0,901.7 L1156.0,901.1 L1155.0,900.5 L1154.0,899.9 L1153.0,899.3 L1152.0,898.7 L1151.0,898.1 L1150.0,897.4 L1149.0,896.8 L1148.0,896.2 L1147.0,895.5 L1146.0,894.9 L1145.0,894.3 L1144.0,893.6 L1143.0,892.9 L1142.0,892.3 L1141.0,891.6 L1140.0,891.0 L1139.0,890.3 L1138.0,889.6 L1137.0,888.9 L1136.0,888.3 L1135.0,887.6 L1134.0,886.9 L1133.0,886.2 L1132.0,885.5 L1131.0,884.8 L1130.0,884.1 L1129.0,883.4 L1128.0,882.6 L1127.0,881.9 L1126.0,881.2 L1125.0,880.4 L1124.0,879.7 L1123.0,879.0 L1122.0,878.2 L1121.0,877.5 L1120.0,876.7 L1119.0,876.0 L1118.0,875.2 L1117.0,874.4 L1116.0,873.6 L1115.0,872.9 L1114.0,872.1 L1113.0,871.3 L1112.0,870.5 L1111.0,869.7 L1110.0,868.9 L1109.0,868.1 L1108.0,867.3 L1107.0,866.5 L1106.0,865.6 L1105.0,864.8 L1104.0,864.0 L1103.0,863.1 L1102.0,862.3 L1101.0,861.4 L1100.0,860.6 L1099.0,859.7 L1098.0,858.8 L1097.0,858.0 L1096.0,857.1 L1095.0,856.2 L1094.0,855.3 L1093.0,854.4 L1092.0,853.5 L1091.0,852.6 L1090.0,851.7 L1089.0,850.8 L1088.0,849.9 L1087.0,849.0 L1086.0,848.0 L1085.0,847.1 L1084.0,846.1 L1083.0,845.2 L1082.0,844.2 L1081.0,843.3 L1080.0,842.3 L1079.0,841.3 L1078.0,840.4 L1077.0,839.4 L1076.0,838.4 L1075.0,837.4 L1074.0,836.4 L1073.0,835.4 L1072.0,834.4 L1071.0,833.3 L1070.0,832.3 L1069.0,831.3 L1068.0,830.2 L1067.0,829.2 L1066.0,828.1 L1065.0,827.1 L1064.0,826.0 L1063.0,824.9 L1062.0,823.9 L1061.0,822.8 L1060.0,821.7 L1059.0,820.6 L1058.0,819.5 L1057.0,818.4 L1056.0,817.3 L1055.0,816.2 L1054.0,815.0 L1053.0,813.9 L1052.0,812.8 L1051.0,811.6 L1050.0,810.5 L1049.0,809.3 L1048.0,808.1 L1047.0,807.0 L1046.0,805.8 L1045.0,804.6 L1044.0,803.4 L1043.0,802.2 L1042.0,801.0 L1041.0,799.8 L1040.0,798.5 L1039.0,797.3 L1038.0,796.1 L1037.0,794.8 L1036.0,793.6 L1035.0,792.3 L1034.0,791.1 L1033.0,789.8 L1032.0,788.5 L1031.0,787.2 L1030.0,786.0 L1029.0,784.7 L1028.0,783.4 L1027.0,782.0 L1026.0,780.7 L1025.0,779.4 L1024.0,778.1 L1023.0,776.7 L1022.0,775.4 L1021.0,774.0 L1020.0,772.7 L1019.0,771.3 L1018.0,769.9 L1017.0,768.5 L1016.0,767.1 L1015.0,765.7 L1014.0,764.3 L1013.0,762.9 L1012.0,761.5 L1011.0,760.1 L1010.0,758.6 L1009.0,757.2 L1008.0,755.7 L1007.0,754.3 L1006.0,752.8 L1005.0,751.4 L1004.0,749.9 L1003.0,748.4 L1002.0,746.9 L1001.0,745.4 L1000.0,743.9 L999.0,742.4 L998.0,740.9 L997.0,739.3 L996.0,737.8 L995.0,736.2 L994.0,734.7 L993.0,733.1 L992.0,731.6 L991.0,730.0 L990.0,728.4 L989.0,726.8 L988.0,725.2 L987.0,723.6 L986.0,722.0 L985.0,720.4 L984.0,718.8 L983.0,717.1 L982.0,715.5 L981.0,713.8 L980.0,712.2 L979.0,710.5 L978.0,708.9 L977.0,707.2 L976.0,705.5 L975.0,703.8 L974.0,702.1 L973.0,700.4 L972.0,698.7 L971.0,697.0 L970.0,695.2 L969.0,693.5 L968.0,691.8 L967.0,690.0 L966.0,688.3 L965.0,686.5 L964.0,684.7 L963.0,683.0 L962.0,681.2 L961.0,679.4 L960.0,677.6 L959.0,675.8 L958.0,674.0 L957.0,672.2 L956.0,670.4 L955.0,668.5 L954.0,666.7 L953.0,664.8 L952.0,663.0 L951.0,661.1 L950.0,659.3 L949.0,657.4 L948.0,655.5 L947.0,653.7 L946.0,651.8 L945.0,649.9 L944.0,648.0 L943.0,646.1 L942.0,644.2 L941.0,642.2 L940.0,640.3 L939.0,638.4 L938.0,636.5 L937.0,634.5 L936.0,632.6 L935.0,630.6 L934.0,628.7 L933.0,626.7 L932.0,624.7 L931.0,622.8 L930.0,620.8 L929.0,618.8 L928.0,616.8 L927.0,614.8 L926.0,612.8 L925.0,610.8 L924.0,608.8 L923.0,606.8 L922.0,604.8 L921.0,602.8 L920.0,600.7 L919.0,598.7 L918.0,596.7 L917.0,594.6 L916.0,592.6 L915.0,590.6 L914.0,588.5 L913.0,586.5 L912.0,584.4 L911.0,582.3 L910.0,580.3 L909.0,578.2 L908.0,576.1 L907.0,574.1 L906.0,572.0 L905.0,569.9 L904.0,567.8 L903.0,565.8 L902.0,563.7 L901.0,561.6 L900.0,559.5 L899.0,557.4 L898.0,555.3 L897.0,553.2 L896.0,551.1 L895.0,549.0 L894.0,546.9 L893.0,544.8 L892.0,542.7 L891.0,540.6 L890.0,538.5 L889.0,536.4 L888.0,534.3 L887.0,532.2 L886.0,530.1 L885.0,528.0 L884.0,525.9 L883.0,523.8 L882.0,521.7 L881.0,519.6 L880.0,517.5 L879.0,515.4 L878.0,513.3 L877.0,511.2 L876.0,509.1 L875.0,507.0 L874.0,504.9 L873.0,502.8 L872.0,500.7 L871.0,498.6 L870.0,496.6 L869.0,494.5 L868.0,492.4 L867.0,490.3 L866.0,488.2 L865.0,486.2 L864.0,484.1 L863.0,482.0 L862.0,480.0 L861.0,477.9 L860.0,475.9 L859.0,473.8 L858.0,471.8 L857.0,469.8 L856.0,467.7 L855.0,465.7 L854.0,463.7 L853.0,461.7 L852.0,459.7 L851.0,457.7 L850.0,455.7 L849.0,453.7 L848.0,451.7 L847.0,449.7 L846.0,447.8 L845.0,445.8 L844.0,443.8 L843.0,441.9 L842.0,440.0 L841.0,438.0 L840.0,436.1 L839.0,434.2 L838.0,432.3 L837.0,430.4 L836.0,428.5 L835.0,426.6 L834.0,424.8 L833.0,422.9 L832.0,421.1 L831.0,419.2 L830.0,417.4 L829.0,415.6 L828.0,413.8 L827.0,412.0 L826.0,410.2 L825.0,408.4 L824.0,406.7 L823.0,404.9 L822.0,403.2 L821.0,401.5 L820.0,399.7 L819.0,398.0 L818.0,396.4 L817.0,394.7 L816.0,393.0 L815.0,391.4 L814.0,389.8 L813.0,388.1 L812.0,386.5 L811.0,384.9 L810.0,383.4 L809.0,381.8 L808.0,380.3 L807.0,378.7 L806.0,377.2 L805.0,375.7 L804.0,374.3 L803.0,372.8 L802.0,371.3 L801.0,369.9 L800.0,368.5 L799.0,367.1 L798.0,365.7 L797.0,364.3 L796.0,363.0 L795.0,361.7 L794.0,360.4 L793.0,359.1 L792.0,357.8 L791.0,356.5 L790.0,355.3 L789.0,354.1 L788.0,352.9 L787.0,351.7 L786.0,350.5 L785.0,349.4 L784.0,348.3 L783.0,347.2 L782.0,346.1 L781.0,345.0 L780.0,344.0 L779.0,342.9 L778.0,341.9 L777.0,341.0 L776.0,340.0 L775.0,339.1 L774.0,338.1 L773.0,337.2 L772.0,336.4 L771.0,335.5 L770.0,334.7 L769.0,333.9 L768.0,333.1 L767.0,332.3 L766.0,331.5 L765.0,330.8 L764.0,330.1 L763.0,329.4 L762.0,328.8 L761.0,328.1 L760.0,327.5 L759.0,326.9 L758.0,326.4 L757.0,325.8 L756.0,325.3 L755.0,324.8 L754.0,324.3 L753.0,323.9 L752.0,323.5 L751.0,323.1 L750.0,322.7 L749.0,322.3 L748.0,322.0 L747.0,321.7 L746.0,321.4 L745.0,321.1 L744.0,320.9 L743.0,320.7 L742.0,320.5 L741.0,320.3 L740.0,320.2 L739.0,320.0 L738.0,319.9 L737.0,319.9 L736.0,319.8 L735.0,319.9 L734.0,319.9 L733.0,320.0 L732.0,320.2 L731.0,320.3 L730.0,320.5 L729.0,320.7 L728.0,320.9 L727.0,321.1 L726.0,321.4 L725.0,321.7 L724.0,322.0 L723.0,322.3 L722.0,322.7 L721.0,323.1 L720.0,323.5 L719.0,323.9 L718.0,324.3 L717.0,324.8 L716.0,325.3 L715.0,325.8 L714.0,326.4 L713.0,326.9 L712.0,327.5 L711.0,328.1 L710.0,328.8 L709.0,329.4 L708.0,330.1 L707.0,330.8 L706.0,331.5 L705.0,332.3 L704.0,333.1 L703.0,333.9 L702.0,334.7 L701.0,335.5 L700.0,336.4 L699.0,337.2 L698.0,338.1 L697.0,339.1 L696.0,340.0 L695.0,341.0 L694.0,341.9 L693.0,342.9 L692.0,344.0 L691.0,345.0 L690.0,346.1 L689.0,347.2 L688.0,348.3 L687.0,349.4 L686.0,350.5 L685.0,351.7 L684.0,352.9 L683.0,354.1 L682.0,355.3 L681.0,356.5 L680.0,357.8 L679.0,359.1 L678.0,360.4 L677.0,361.7 L676.0,363.0 L675.0,364.3 L674.0,365.7 L673.0,367.1 L672.0,368.5 L671.0,369.9 L670.0,371.3 L669.0,372.8 L668.0,374.3 L667.0,375.7 L666.0,377.2 L665.0,378.7 L664.0,380.3 L663.0,381.8 L662.0,383.4 L661.0,384.9 L660.0,386.5 L659.0,388.1 L658.0,389.8 L657.0,391.4 L656.0,393.0 L655.0,394.7 L654.0,396.4 L653.0,398.0 L652.0,399.7 L651.0,401.5 L650.0,403.2 L649.0,404.9 L648.0,406.7 L647.0,408.4 L646.0,410.2 L645.0,412.0 L644.0,413.8 L643.0,415.6 L642.0,417.4 L641.0,419.2 L640.0,421.1 L639.0,422.9 L638.0,424.8 L637.0,426.6 L636.0,428.5 L635.0,430.4 L634.0,432.3 L633.0,434.2 L632.0,436.1 L631.0,438.0 L630.0,440.0 L629.0,441.9 L628.0,443.8 L627.0,445.8 L626.0,447.8 L625.0,449.7 L624.0,451.7 L623.0,453.7 L622.0,455.7 L621.0,457.7 L620.0,459.7 L619.0,461.7 L618.0,463.7 L617.0,465.7 L616.0,467.7 L615.0,469.8 L614.0,471.8 L613.0,473.8 L612.0,475.9 L611.0,477.9 L610.0,480.0 L609.0,482.0 L608.0,484.1 L607.0,486.2 L606.0,488.2 L605.0,490.3 L604.0,492.4 L603.0,494.5 L602.0,496.6 L601.0,498.6 L600.0,500.7 L599.0,502.8 L598.0,504.9 L597.0,507.0 L596.0,509.1 L595.0,511.2 L594.0,513.3 L593.0,515.4 L592.0,517.5 L591.0,519.6 L590.0,521.7 L589.0,523.8 L588.0,525.9 L587.0,528.0 L586.0,530.1 L585.0,532.2 L584.0,534.3 L583.0,536.4 L582.0,538.5 L581.0,540.6 L580.0,542.7 L579.0,544.8 L578.0,546.9 L577.0,549.0 L576.0,551.1 L575.0,553.2 L574.0,555.3 L573.0,557.4 L572.0,559.5 L571.0,561.6 L570.0,563.7 L569.0,565.8 L568.0,567.8 L567.0,569.9 L566.0,572.0 L565.0,574.1 L564.0,576.1 L563.0,578.2 L562.0,580.3 L561.0,582.3 L560.0,584.4 L559.0,586.5 L558.0,588.5 L557.0,590.6 L556.0,592.6 L555.0,594.6 L554.0,596.7 L553.0,598.7 L552.0,600.7 L551.0,602.8 L550.0,604.8 L549.0,606.8 L548.0,608.8 L547.0,610.8 L546.0,612.8 L545.0,614.8 L544.0,616.8 L543.0,618.8 L542.0,620.8 L541.0,622.8 L540.0,624.7 L539.0,626.7 L538.0,628.7 L537.0,630.6 L536.0,632.6 L535.0,634.5 L534.0,636.5 L533.0,638.4 L532.0,640.3 L531.0,642.2 L530.0,644.2 L529.0,646.1 L528.0,648.0 L527.0,649.9 L526.0,651.8 L525.0,653.7 L524.0,655.5 L523.0,657.4 L522.0,659.3 L521.0,661.1 L520.0,663.0 L519.0,664.8 L518.0,666.7 L517.0,668.5 L516.0,670.4 L515.0,672.2 L514.0,674.0 L513.0,675.8 L512.0,677.6 L511.0,679.4 L510.0,681.2 L509.0,683.0 L508.0,684.7 L507.0,686.5 L506.0,688.3 L505.0,690.0 L504.0,691.8 L503.0,693.5 L502.0,695.2 L501.0,697.0 L500.0,698.7 L499.0,700.4 L498.0,702.1 L497.0,703.8 L496.0,705.5 L495.0,707.2 L494.0,708.9 L493.0,710.5 L492.0,712.2 L491.0,713.8 L490.0,715.5 L489.0,717.1 L488.0,718.8 L487.0,720.4 L486.0,722.0 L485.0,723.6 L484.0,725.2 L483.0,726.8 L482.0,728.4 L481.0,730.0 L480.0,731.6 L479.0,733.1 L478.0,734.7 L477.0,736.2 L476.0,737.8 L475.0,739.3 L474.0,740.9 L473.0,742.4 L472.0,743.9 L471.0,745.4 L470.0,746.9 L469.0,748.4 L468.0,749.9 L467.0,751.4 L466.0,752.8 L465.0,754.3 L464.0,755.7 L463.0,757.2 L462.0,758.6 L461.0,760.1 L460.0,761.5 L459.0,762.9 L458.0,764.3 L457.0,765.7 L456.0,767.1 L455.0,768.5 L454.0,769.9 L453.0,771.3 L452.0,772.7 L451.0,774.0 L450.0,775.4 L449.0,776.7 L448.0,778.1 L447.0,779.4 L446.0,780.7 L445.0,782.0 L444.0,783.4 L443.0,784.7 L442.0,786.0 L441.0,787.2 L440.0,788.5 L439.0,789.8 L438.0,791.1 L437.0,792.3 L436.0,793.6 L435.0,794.8 L434.0,796.1 L433.0,797.3 L432.0,798.5 L431.0,799.8 L430.0,801.0 L429.0,802.2 L428.0,803.4 L427.0,804.6 L426.0,805.8 L425.0,807.0 L424.0,808.1 L423.0,809.3 L422.0,810.5 L421.0,811.6 L420.0,812.8 L419.0,813.9 L418.0,815.0 L417.0,816.2 L416.0,817.3 L415.0,818.4 L414.0,819.5 L413.0,820.6 L412.0,821.7 L411.0,822.8 L410.0,823.9 L409.0,824.9 L408.0,826.0 L407.0,827.1 L406.0,828.1 L405.0,829.2 L404.0,830.2 L403.0,831.3 L402.0,832.3 L401.0,833.3 L400.0,834.4 L399.0,835.4 L398.0,836.4 L397.0,837.4 L396.0,838.4 L395.0,839.4 L394.0,840.4 L393.0,841.3 L392.0,842.3 L391.0,843.3 L390.0,844.2 L389.0,845.2 L388.0,846.1 L387.0,847.1 L386.0,848.0 L385.0,849.0 L384.0,849.9 L383.0,850.8 L382.0,851.7 L381.0,852.6 L380.0,853.5 L379.0,854.4 L378.0,855.3 L377.0,856.2 L376.0,857.1 L375.0,858.0 L374.0,858.8 L373.0,859.7 L372.0,860.6 L371.0,861.4 L370.0,862.3 L369.0,863.1 L368.0,864.0 L367.0,864.8 L366.0,865.6 L365.0,866.5 L364.0,867.3 L363.0,868.1 L362.0,868.9 L361.0,869.7 L360.0,870.5 L359.0,871.3 L358.0,872.1 L357.0,872.9 L356.0,873.6 L355.0,874.4 L354.0,875.2 L353.0,876.0 L352.0,876.7 L351.0,877.5 L350.0,878.2 L349.0,879.0 L348.0,879.7 L347.0,880.4 L346.0,881.2 L345.0,881.9 L344.0,882.6 L343.0,883.4 L342.0,884.1 L341.0,884.8 L340.0,885.5 L339.0,886.2 L338.0,886.9 L337.0,887.6 L336.0,888.3 L335.0,888.9 L334.0,889.6 L333.0,890.3 L332.0,891.0 L331.0,891.6 L330.0,892.3 L329.0,892.9 L328.0,893.6 L327.0,894.3 L326.0,894.9 L325.0,895.5 L324.0,896.2 L323.0,896.8 L322.0,897.4 L321.0,898.1 L320.0,898.7 L319.0,899.3 L318.0,899.9 L317.0,900.5 L316.0,901.1 L315.0,901.7 L314.0,902.3 L313.0,902.9 L312.0,903.5 L311.0,904.1 L310.0,904.7 L309.0,905.3 L308.0,905.8 L307.0,906.4 L306.0,907.0 L305.0,907.5 L304.0,908.1 L303.0,908.7 L302.0,909.2 L301.0,909.8 L300.0,910.3 L299.0,910.9 L298.0,911.4 L297.0,911.9 L296.0,912.5 L295.0,913.0 L294.0,913.5 L293.0,914.0 L292.0,914.6 L291.0,915.1 L290.0,915.6 L289.0,916.1 L288.0,916.6 L287.0,917.1 L286.0,917.6 L285.0,918.1 L284.0,918.6 L283.0,919.1 L282.0,919.6 L281.0,920.1 L280.0,920.6 L279.0,921.0 L278.0,921.5 L277.0,922.0 L276.0,922.4 L275.0,922.9 L274.0,923.4 L273.0,923.8 L272.0,924.3 L271.0,924.7 L270.0,925.2 L269.0,925.7 L268.0,926.1 L267.0,926.5 L266.0,927.0 L265.0,927.4 L264.0,927.9 L263.0,928.3 L262.0,928.7 L261.0,929.1 L260.0,929.6 L259.0,930.0 L258.0,930.4 L257.0,930.8 L256.0,931.2 L255.0,931.6 L254.0,932.1 L253.0,932.5 L252.0,932.9 L251.0,933.3 L250.0,933.7 L249.0,934.1 L248.0,934.4 L247.0,934.8 L246.0,935.2 L245.0,935.6 L244.0,936.0 L243.0,936.4 L242.0,936.8 L241.0,937.1 L240.0,937.5 L239.0,937.9 L238.0,938.2 L237.0,938.6 L236.0,939.0 L235.0,939.3 L234.0,939.7 L233.0,940.0 L232.0,940.4 L231.0,940.8 L230.0,941.1 L229.0,941.5 L228.0,941.8 L227.0,942.1 L226.0,942.5 L225.0,942.8 L224.0,943.2 L223.0,943.5 L222.0,943.8 L221.0,944.2 L220.0,944.5 L219.0,944.8 L218.0,945.1 L217.0,945.5 L216.0,945.8 L215.0,946.1 L214.0,946.4 L213.0,946.7 L212.0,947.1 L211.0,947.4 L210.0,947.7 L209.0,948.0 L208.0,948.3 L207.0,948.6 L206.0,948.9 L205.0,949.2 L204.0,949.5 L203.0,949.8 L202.0,950.1 L201.0,950.4 L200.0,950.7 L199.0,950.9 L198.0,951.2 L197.0,951.5 L196.0,951.8 L195.0,952.1 L194.0,952.4 L193.0,952.6 L192.0,952.9 L191.0,953.2 L190.0,953.5 L189.0,953.7 L188.0,954.0 L187.0,954.3 L186.0,954.5 L185.0,954.8 L184.0,955.1 L183.0,955.3 L182.0,955.6 L181.0,955.8 L180.0,956.1 L179.0,956.4 L178.0,956.6 L177.0,956.9 L176.0,957.1 L175.0,957.4 L174.0,957.4 L173.0,957.4 Z" fill="#0000ff"/><path d="M173.0,811.1 L174.0,810.5 L175.0,810.0 L176.0,809.5 L177.0,808.9 L178.0,808.4 L179.0,807.8 L180.0,807.3 L181.0,806.7 L182.0,806.2 L183.0,805.6 L184.0,805.1 L185.0,804.5 L186.0,804.0 L187.0,803.4 L188.0,802.9 L189.0,802.3 L190.0,801.7 L191.0,801.2 L192.0,800.6 L193.0,800.0 L194.0,799.4 L195.0,798.9 L196.0,798.3 L197.0,797.7 L198.0,797.1 L199.0,796.5 L200.0,795.9 L201.0,795.3 L202.0,794.7 L203.0,794.2 L204.0,793.6 L205.0,793.0 L206.0,792.4 L207.0,791.7 L208.0,791.1 L209.0,790.5 L210.0,789.9 L211.0,789.3 L212.0,788.7 L213.0,788.1 L214.0,787.4 L215.0,786.8 L216.0,786.2 L217.0,785.6 L218.0,784.9 L219.0,784.3 L220.0,783.7 L221.0,783.0 L222.0,782.4 L223.0,781.7 L224.0,781.1 L225.0,780.4 L226.0,779.8 L227.0,779.1 L228.0,778.5 L229.0,777.8 L230.0,777.2 L231.0,776.5 L232.0,775.8 L233.0,775.2 L234.0,774.5 L235.0,773.8 L236.0,773.1 L237.0,772.5 L238.0,771.8 L239.0,771.1 L240.0,770.4 L241.0,769.7 L242.0,769.0 L243.0,768.3 L244.0,767.6 L245.0,766.9 L246.0,766.2 L247.0,765.5 L248.0,764.8 L249.0,764.1 L250.0,763.4 L251.0,762.7 L252.0,761.9 L253.0,761.2 L254.0,760.5 L255.0,759.8 L256.0,759.0 L257.0,758.3 L258.0,757.6 L259.0,756.8 L260.0,756.1 L261.0,755.3 L262.0,754.6 L263.0,753.8 L264.0,753.1 L265.0,752.3 L266.0,751.5 L267.0,750.8 L268.0,750.0 L269.0,749.2 L270.0,748.5 L271.0,747.7 L272.0,746.9 L273.0,746.1 L274.0,745.3 L275.0,744.5 L276.0,743.8 L277.0,743.0 L278.0,742.2 L279.0,741.4 L280.0,740.5 L281.0,739.7 L282.0,738.9 L283.0,738.1 L284.0,737.3 L285.0,736.5 L286.0,735.6 L287.0,734.8 L288.0,734.0 L289.0,733.2 L290.0,732.3 L291.0,731.5 L292.0,730.6 L293.0,729.8 L294.0,728.9 L295.0,728.1 L296.0,727.2 L297.0,726.4 L298.0,725.5 L299.0,724.6 L300.0,723.8 L301.0,722.9 L302.0,722.0 L303.0,721.1 L304.0,720.2 L305.0,719.3 L306.0,718.4 L307.0,717.6 L308.0,716.7 L309.0,715.7 L310.0,714.8 L311.0,713.9 L312.0,713.0 L313.0,712.1 L314.0,711.2 L315.0,710.3 L316.0,709.3 L317.0,708.4 L318.0,707.5 L319.0,706.5 L320.0,705.6 L321.0,704.6 L322.0,703.7 L323.0,702.7 L324.0,701.8 L325.0,700.8 L326.0,699.8 L327.0,698.9 L328.0,697.9 L329.0,696.9 L330.0,695.9 L331.0,694.9 L332.0,693.9 L333.0,693.0 L334.0,692.0 L335.0,691.0 L336.0,689.9 L337.0,688.9 L338.0,687.9 L339.0,686.9 L340.0,685.9 L341.0,684.9 L342.0,683.8 L343.0,682.8 L344.0,681.8 L345.0,680.7 L346.0,679.7 L347.0,678.6 L348.0,677.6 L349.0,676.5 L350.0,675.5 L351.0,674.4 L352.0,673.3 L353.0,672.2 L354.0,671.2 L355.0,670.1 L356.0,669.0 L357.0,667.9 L358.0,666.8 L359.0,665.7 L360.0,664.6 L361.0,663.5 L362.0,662.4 L363.0,661.3 L364.0,660.1 L365.0,659.0 L366.0,657.9 L367.0,656.7 L368.0,655.6 L369.0,654.5 L370.0,653.3 L371.0,652.2 L372.0,651.0 L373.0,649.8 L374.0,648.7 L375.0,647.5 L376.0,646.3 L377.0,645.2 L378.0,644.0 L379.0,642.8 L380.0,641.6 L381.0,640.4 L382.0,639.2 L383.0,638.0 L384.0,636.8 L385.0,635.6 L386.0,634.3 L387.0,633.1 L388.0,631.9 L389.0,630.6 L390.0,629.4 L391.0,628.2 L392.0,626.9 L393.0,625.7 L394.0,624.4 L395.0,623.1 L396.0,621.9 L397.0,620.6 L398.0,619.3 L399.0,618.0 L400.0,616.8 L401.0,615.5 L402.0,614.2 L403.0,612.9 L404.0,611.6 L405.0,610.3 L406.0,608.9 L407.0,607.6 L408.0,606.3 L409.0,605.0 L410.0,603.6 L411.0,602.3 L412.0,601.0 L413.0,599.6 L414.0,598.3 L415.0,596.9 L416.0,595.5 L417.0,594.2 L418.0,592.8 L419.0,591.4 L420.0,590.0 L421.0,588.6 L422.0,587.3 L423.0,585.9 L424.0,584.5 L425.0,583.0 L426.0,581.6 L427.0,580.2 L428.0,578.8 L429.0,577.4 L430.0,575.9 L431.0,574.5 L432.0,573.1 L433.0,571.6 L434.0,570.2 L435.0,568.7 L436.0,567.2 L437.0,565.8 L438.0,564.3 L439.0,562.8 L440.0,561.3 L441.0,559.9 L442.0,558.4 L443.0,556.9 L444.0,555.4 L445.0,553.9 L446.0,552.4 L447.0,550.8 L448.0,549.3 L449.0,547.8 L450.0,546.3 L451.0,544.7 L452.0,543.2 L453.0,541.6 L454.0,540.1 L455.0,538.5 L456.0,537.0 L457.0,535.4 L458.0,533.8 L459.0,532.3 L460.0,530.7 L461.0,529.1 L462.0,527.5 L463.0,525.9 L464.0,524.3 L465.0,522.7 L466.0,521.1 L467.0,519.5 L468.0,517.9 L469.0,516.3 L470.0,514.6 L471.0,513.0 L472.0,511.4 L473.0,509.7 L474.0,508.1 L475.0,506.4 L476.0,504.8 L477.0,503.1 L478.0,501.4 L479.0,499.8 L480.0,498.1 L481.0,496.4 L482.0,494.7 L483.0,493.0 L484.0,491.3 L485.0,489.7 L486.0,487.9 L487.0,486.2 L488.0,484.5 L489.0,482.8 L490.0,481.1 L491.0,479.4 L492.0,477.6 L493.0,475.9 L494.0,474.2 L495.0,472.4 L496.0,470.7 L497.0,468.9 L498.0,467.2 L499.0,465.4 L500.0,463.7 L501.0,461.9 L502.0,460.1 L503.0,458.4 L504.0,456.6 L505.0,454.8 L506.0,453.0 L507.0,451.2 L508.0,449.4 L509.0,447.6 L510.0,445.8 L511.0,444.0 L512.0,442.2 L513.0,440.4 L514.0,438.6 L515.0,436.8 L516.0,435.0 L517.0,433.1 L518.0,431.3 L519.0,429.5 L520.0,427.6 L521.0,425.8 L522.0,424.0 L523.0,422.1 L524.0,420.3 L525.0,418.4 L526.0,416.6 L527.0,414.7 L528.0,412.9 L529.0,411.0 L530.0,409.1 L531.0,407.3 L532.0,405.4 L533.0,403.5 L534.0,401.7 L535.0,399.8 L536.0,397.9 L537.0,396.0 L538.0,394.1 L539.0,392.2 L540.0,390.4 L541.0,388.5 L542.0,386.6 L543.0,384.7 L544.0,382.8 L545.0,380.9 L546.0,379.0 L547.0,377.1 L548.0,375.2 L549.0,373.3 L550.0,371.4 L551.0,369.5 L552.0,367.6 L553.0,365.7 L554.0,363.8 L555.0,361.9 L556.0,359.9 L557.0,358.0 L558.0,356.1 L559.0,354.2 L560.0,352.3 L561.0,350.4 L562.0,348.5 L563.0,346.6 L564.0,344.6 L565.0,342.7 L566.0,340.8 L567.0,338.9 L568.0,337.0 L569.0,335.1 L570.0,333.2 L571.0,331.3 L572.0,329.4 L573.0,327.5 L574.0,325.5 L575.0,323.6 L576.0,321.7 L577.0,319.8 L578.0,317.9 L579.0,316.0 L580.0,314.1 L581.0,312.2 L582.0,310.3 L583.0,308.4 L584.0,306.5 L585.0,304.7 L586.0,302.8 L587.0,300.9 L588.0,299.0 L589.0,297.1 L590.0,295.2 L591.0,293.4 L592.0,291.5 L593.0,289.6 L594.0,287.8 L595.0,285.9 L596.0,284.1 L597.0,282.2 L598.0,280.4 L599.0,278.5 L600.0,276.7 L601.0,274.8 L602.0,273.0 L603.0,271.2 L604.0,269.4 L605.0,267.5 L606.0,265.7 L607.0,263.9 L608.0,262.1 L609.0,260.3 L610.0,258.5 L611.0,256.7 L612.0,255.0 L613.0,253.2 L614.0,251.4 L615.0,249.7 L616.0,247.9 L617.0,246.2 L618.0,244.4 L619.0,242.7 L620.0,241.0 L621.0,239.2 L622.0,237.5 L623.0,235.8 L624.0,234.1 L625.0,232.4 L626.0,230.7 L627.0,229.1 L628.0,227.4 L629.0,225.7 L630.0,224.1 L631.0,222.5 L632.0,220.8 L633.0,219.2 L634.0,217.6 L635.0,216.0 L636.0,214.4 L637.0,212.8 L638.0,211.2 L639.0,209.7 L640.0,208.1 L641.0,206.6 L642.0,205.0 L643.0,203.5 L644.0,202.0 L645.0,200.5 L646.0,199.0 L647.0,197.5 L648.0,196.1 L649.0,194.6 L650.0,193.2 L651.0,191.7 L652.0,190.3 L653.0,188.9 L654.0,187.5 L655.0,186.1 L656.0,184.7 L657.0,183.4 L658.0,182.0 L659.0,180.7 L660.0,179.4 L661.0,178.1 L662.0,176.8 L663.0,175.5 L664.0,174.2 L665.0,173.0 L666.0,171.7 L667.0,170.5 L668.0,169.3 L669.0,168.1 L670.0,166.9 L671.0,165.8 L672.0,164.6 L673.0,163.5 L674.0,162.3 L675.0,161.2 L676.0,160.1 L677.0,159.1 L678.0,158.0 L679.0,157.0 L680.0,155.9 L681.0,154.9 L682.0,153.9 L683.0,153.0 L684.0,152.0 L685.0,151.0 L686.0,150.1 L687.0,149.2 L688.0,148.3 L689.0,147.4 L690.0,146.6 L691.0,145.7 L692.0,144.9 L693.0,144.1 L694.0,143.3 L695.0,142.5 L696.0,141.8 L697.0,141.0 L698.0,140.3 L699.0,139.6 L700.0,138.9 L701.0,138.3 L702.0,137.6 L703.0,137.0 L704.0,136.4 L705.0,135.8 L706.0,135.2 L707.0,134.6 L708.0,134.1 L709.0,133.6 L710.0,133.1 L711.0,132.6 L712.0,132.1 L713.0,131.7 L714.0,131.3 L715.0,130.9 L716.0,130.5 L717.0,130.1 L718.0,129.8 L719.0,129.5 L720.0,129.2 L721.0,128.9 L722.0,128.6 L723.0,128.4 L724.0,128.1 L725.0,127.9 L726.0,127.7 L727.0,127.6 L728.0,127.4 L729.0,127.3 L730.0,127.2 L731.0,127.1 L732.0,127.0 L733.0,127.0 L734.0,126.9 L735.0,126.9 L736.0,126.9 L737.0,126.9 L738.0,126.9 L739.0,126.9 L740.0,127.0 L741.0,127.0 L742.0,127.1 L743.0,127.2 L744.0,127.3 L745.0,127.4 L746.0,127.5 L747.0,127.7 L748.0,127.9 L749.0,128.1 L750.0,128.3 L751.0,128.6 L752.0,128.8 L753.0,129.1 L754.0,129.4 L755.0,129.7 L756.0,130.1 L757.0,130.5 L758.0,130.8 L759.0,131.2 L760.0,131.7 L761.0,132.1 L762.0,132.6 L763.0,133.0 L764.0,133.5 L765.0,134.0 L766.0,134.6 L767.0,135.1 L768.0,135.7 L769.0,136.3 L770.0,136.9 L771.0,137.5 L772.0,138.2 L773.0,138.8 L774.0,139.5 L775.0,140.2 L776.0,140.9 L777.0,141.7 L778.0,142.4 L779.0,143.2 L780.0,144.0 L781.0,144.8 L782.0,145.6 L783.0,146.5 L784.0,147.3 L785.0,148.2 L786.0,149.1 L787.0,150.0 L788.0,150.9 L789.0,151.9 L790.0,152.8 L791.0,153.8 L792.0,154.8 L793.0,155.8 L794.0,156.8 L795.0,157.9 L796.0,158.9 L797.0,160.0 L798.0,161.1 L799.0,162.2 L800.0,163.3 L801.0,164.5 L802.0,165.6 L803.0,166.8 L804.0,168.0 L805.0,169.1 L806.0,170.4 L807.0,171.6 L808.0,172.8 L809.0,174.1 L810.0,175.3 L811.0,176.6 L812.0,177.9 L813.0,179.2 L814.0,180.5 L815.0,181.9 L816.0,183.2 L817.0,184.6 L818.0,185.9 L819.0,187.3 L820.0,188.7 L821.0,190.1 L822.0,191.5 L823.0,193.0 L824.0,194.4 L825.0,195.9 L826.0,197.3 L827.0,198.8 L828.0,200.3 L829.0,201.8 L830.0,203.3 L831.0,204.8 L832.0,206.4 L833.0,207.9 L834.0,209.5 L835.0,211.0 L836.0,212.6 L837.0,214.2 L838.0,215.8 L839.0,217.4 L840.0,219.0 L841.0,220.6 L842.0,222.3 L843.0,223.9 L844.0,225.5 L845.0,227.2 L846.0,228.9 L847.0,230.5 L848.0,232.2 L849.0,233.9 L850.0,235.6 L851.0,237.3 L852.0,239.0 L853.0,240.7 L854.0,242.5 L855.0,244.2 L856.0,245.9 L857.0,247.7 L858.0,249.4 L859.0,251.2 L860.0,253.0 L861.0,254.7 L862.0,256.5 L863.0,258.3 L864.0,260.1 L865.0,261.9 L866.0,263.7 L867.0,265.5 L868.0,267.3 L869.0,269.1 L870.0,270.9 L871.0,272.8 L872.0,274.6 L873.0,276.4 L874.0,278.3 L875.0,280.1 L876.0,282.0 L877.0,283.8 L878.0,285.7 L879.0,287.5 L880.0,289.4 L881.0,291.3 L882.0,293.1 L883.0,295.0 L884.0,296.9 L885.0,298.8 L886.0,300.7 L887.0,302.5 L888.0,304.4 L889.0,306.3 L890.0,308.2 L891.0,310.1 L892.0,312.0 L893.0,313.9 L894.0,315.8 L895.0,317.7 L896.0,319.6 L897.0,321.5 L898.0,323.4 L899.0,325.3 L900.0,327.2 L901.0,329.1 L902.0,331.0 L903.0,332.9 L904.0,334.9 L905.0,336.8 L906.0,338.7 L907.0,340.6 L908.0,342.5 L909.0,344.4 L910.0,346.3 L911.0,348.2 L912.0,350.1 L913.0,352.1 L914.0,354.0 L915.0,355.9 L916.0,357.8 L917.0,359.7 L918.0,361.6 L919.0,363.5 L920.0,365.4 L921.0,367.3 L922.0,369.2 L923.0,371.2 L924.0,373.1 L925.0,375.0 L926.0,376.9 L927.0,378.8 L928.0,380.7 L929.0,382.6 L930.0,384.5 L931.0,386.3 L932.0,388.2 L933.0,390.1 L934.0,392.0 L935.0,393.9 L936.0,395.8 L937.0,397.7 L938.0,399.5 L939.0,401.4 L940.0,403.3 L941.0,405.2 L942.0,407.0 L943.0,408.9 L944.0,410.8 L945.0,412.6 L946.0,414.5 L947.0,416.3 L948.0,418.2 L949.0,420.0 L950.0,421.9 L951.0,423.7 L952.0,425.6 L953.0,427.4 L954.0,429.3 L955.0,431.1 L956.0,432.9 L957.0,434.7 L958.0,436.6 L959.0,438.4 L960.0,440.2 L961.0,442.0 L962.0,443.8 L963.0,445.6 L964.0,447.4 L965.0,449.2 L966.0,451.0 L967.0,452.8 L968.0,454.6 L969.0,456.4 L970.0,458.1 L971.0,459.9 L972.0,461.7 L973.0,463.5 L974.0,465.2 L975.0,467.0 L976.0,468.7 L977.0,470.5 L978.0,472.2 L979.0,474.0 L980.0,475.7 L981.0,477.4 L982.0,479.2 L983.0,480.9 L984.0,482.6 L985.0,484.3 L986.0,486.0 L987.0,487.7 L988.0,489.4 L989.0,491.1 L990.0,492.8 L991.0,494.5 L992.0,496.2 L993.0,497.9 L994.0,499.6 L995.0,501.2 L996.0,502.9 L997.0,504.6 L998.0,506.2 L999.0,507.9 L1000.0,509.5 L1001.0,511.2 L1002.0,512.8 L1003.0,514.4 L1004.0,516.1 L1005.0,517.7 L1006.0,519.3 L1007.0,520.9 L1008.0,522.5 L1009.0,524.1 L1010.0,525.7 L1011.0,527.3 L1012.0,528.9 L1013.0,530.5 L1014.0,532.1 L1015.0,533.6 L1016.0,535.2 L1017.0,536.8 L1018.0,538.3 L1019.0,539.9 L1020.0,541.4 L1021.0,543.0 L1022.0,544.5 L1023.0,546.1 L1024.0,547.6 L1025.0,549.1 L1026.0,550.7 L1027.0,552.2 L1028.0,553.7 L1029.0,555.2 L1030.0,556.7 L1031.0,558.2 L1032.0,559.7 L1033.0,561.2 L1034.0,562.6 L1035.0,564.1 L1036.0,565.6 L1037.0,567.1 L1038.0,568.5 L1039.0,570.0 L1040.0,571.4 L1041.0,572.9 L1042.0,574.3 L1043.0,575.8 L1044.0,577.2 L1045.0,578.6 L1046.0,580.0 L1047.0,581.5 L1048.0,582.9 L1049.0,584.3 L1050.0,585.7 L1051.0,587.1 L1052.0,588.5 L1053.0,589.9 L1054.0,591.2 L1055.0,592.6 L1056.0,594.0 L1057.0,595.4 L1058.0,596.7 L1059.0,598.1 L1060.0,599.4 L1061.0,600.8 L1062.0,602.1 L1063.0,603.5 L1064.0,604.8 L1065.0,606.1 L1066.0,607.5 L1067.0,608.8 L1068.0,610.1 L1069.0,611.4 L1070.0,612.7 L1071.0,614.0 L1072.0,615.3 L1073.0,616.6 L1074.0,617.9 L1075.0,619.2 L1076.0,620.4 L1077.0,621.7 L1078.0,623.0 L1079.0,624.2 L1080.0,625.5 L1081.0,626.8 L1082.0,628.0 L1083.0,629.3 L1084.0,630.5 L1085.0,631.7 L1086.0,633.0 L1087.0,634.2 L1088.0,635.4 L1089.0,636.6 L1090.0,637.8 L1091.0,639.0 L1092.0,640.2 L1093.0,641.4 L1094.0,642.6 L1095.0,643.8 L1096.0,645.0 L1097.0,646.2 L1098.0,647.4 L1099.0,648.5 L1100.0,649.7 L1101.0,650.9 L1102.0,652.0 L1103.0,653.2 L1104.0,654.3 L1105.0,655.5 L1106.0,656.6 L1107.0,657.7 L1108.0,658.9 L1109.0,660.0 L1110.0,661.1 L1111.0,662.2 L1112.0,663.3 L1113.0,664.5 L1114.0,665.6 L1115.0,666.7 L1116.0,667.8 L1117.0,668.9 L1118.0,669.9 L1119.0,671.0 L1120.0,672.1 L1121.0,673.2 L1122.0,674.3 L1123.0,675.3 L1124.0,676.4 L1125.0,677.4 L1126.0,678.5 L1127.0,679.5 L1128.0,680.6 L1129.0,681.6 L1130.0,682.7 L1131.0,683.7 L1132.0,684.7 L1133.0,685.8 L1134.0,686.8 L1135.0,687.8 L1136.0,688.8 L1137.0,689.8 L1138.0,690.8 L1139.0,691.8 L1140.0,692.8 L1141.0,693.8 L1142.0,694.8 L1143.0,695.8 L1144.0,696.8 L1145.0,697.8 L1146.0,698.7 L1147.0,699.7 L1148.0,700.7 L1149.0,701.6 L1150.0,702.6 L1151.0,703.6 L1152.0,704.5 L1153.0,705.5 L1154.0,706.4 L1155.0,707.3 L1156.0,708.3 L1157.0,709.2 L1158.0,710.1 L1159.0,711.1 L1160.0,712.0 L1161.0,712.9 L1162.0,713.8 L1163.0,714.7 L1164.0,715.6 L1165.0,716.5 L1166.0,717.4 L1167.0,718.3 L1168.0,719.2 L1169.0,720.1 L1170.0,721.0 L1171.0,721.9 L1172.0,722.8 L1173.0,723.6 L1174.0,724.5 L1175.0,725.4 L1176.0,726.2 L1177.0,727.1 L1178.0,728.0 L1179.0,728.8 L1180.0,729.7 L1181.0,730.5 L1182.0,731.4 L1183.0,732.2 L1184.0,733.0 L1185.0,733.9 L1186.0,734.7 L1187.0,735.5 L1188.0,736.4 L1189.0,737.2 L1190.0,738.0 L1191.0,738.8 L1192.0,739.6 L1193.0,740.4 L1194.0,741.3 L1195.0,742.1 L1196.0,742.9 L1197.0,743.7 L1198.0,744.4 L1199.0,745.2 L1200.0,746.0 L1201.0,746.8 L1202.0,747.6 L1203.0,748.4 L1204.0,749.1 L1205.0,749.9 L1206.0,750.7 L1207.0,751.4 L1208.0,752.2 L1209.0,753.0 L1210.0,753.7 L1211.0,754.5 L1212.0,755.2 L1213.0,756.0 L1214.0,756.7 L1215.0,757.5 L1216.0,758.2 L1217.0,758.9 L1218.0,759.7 L1219.0,760.4 L1220.0,761.1 L1221.0,761.8 L1222.0,762.6 L1223.0,763.3 L1224.0,764.0 L1225.0,764.7 L1226.0,765.4 L1227.0,766.1 L1228.0,766.8 L1229.0,767.5 L1230.0,768.2 L1231.0,768.9 L1232.0,769.6 L1233.0,770.3 L1234.0,771.0 L1235.0,771.7 L1236.0,772.4 L1237.0,773.1 L1238.0,773.7 L1239.0,774.4 L1240.0,775.1 L1241.0,775.7 L1242.0,776.4 L1243.0,777.1 L1244.0,777.7 L1245.0,778.4 L1246.0,779.1 L1247.0,779.7 L1248.0,780.4 L1249.0,781.0 L1250.0,781.7 L1251.0,782.3 L1252.0,782.9 L1253.0,783.6 L1254.0,784.2 L1255.0,784.9 L1256.0,785.5 L1257.0,786.1 L1258.0,786.7 L1259.0,787.4 L1260.0,788.0 L1261.0,788.6 L1262.0,789.2 L1263.0,789.8 L1264.0,790.5 L1265.0,791.1 L1266.0,791.7 L1267.0,792.3 L1268.0,792.9 L1269.0,793.5 L1270.0,794.1 L1271.0,794.7 L1272.0,795.3 L1273.0,795.9 L1274.0,796.4 L1275.0,797.0 L1276.0,797.6 L1277.0,798.2 L1278.0,798.8 L1279.0,799.4 L1280.0,799.9 L1281.0,800.5 L1282.0,801.1 L1283.0,801.7 L1284.0,802.2 L1285.0,802.8 L1286.0,803.3 L1287.0,803.9 L1288.0,804.5 L1289.0,805.0 L1290.0,805.6 L1291.0,806.1 L1292.0,806.7 L1293.0,807.2 L1294.0,807.8 L1295.0,808.3 L1296.0,808.9 L1297.0,809.4 L1298.0,809.9 L1299.0,810.5 L1300.0,811.0 L1300.0,814.0 L1299.0,814.0 L1298.0,814.0 L1297.0,814.0 L1296.0,813.5 L1295.0,812.9 L1294.0,812.4 L1293.0,811.9 L1292.0,811.3 L1291.0,810.8 L1290.0,810.2 L1289.0,809.7 L1288.0,809.1 L1287.0,808.6 L1286.0,808.0 L1285.0,807.5 L1284.0,806.9 L1283.0,806.3 L1282.0,805.8 L1281.0,805.2 L1280.0,804.7 L1279.0,804.1 L1278.0,803.5 L1277.0,802.9 L1276.0,802.4 L1275.0,801.8 L1274.0,801.2 L1273.0,800.6 L1272.0,800.0 L1271.0,799.4 L1270.0,798.9 L1269.0,798.3 L1268.0,797.7 L1267.0,797.1 L1266.0,796.5 L1265.0,795.9 L1264.0,795.3 L1263.0,794.7 L1262.0,794.1 L1261.0,793.5 L1260.0,792.8 L1259.0,792.2 L1258.0,791.6 L1257.0,791.0 L1256.0,790.4 L1255.0,789.7 L1254.0,789.1 L1253.0,788.5 L1252.0,787.9 L1251.0,787.2 L1250.0,786.6 L1249.0,785.9 L1248.0,785.3 L1247.0,784.7 L1246.0,784.0 L1245.0,783.4 L1244.0,782.7 L1243.0,782.1 L1242.0,781.4 L1241.0,780.7 L1240.0,780.1 L1239.0,779.4 L1238.0,778.7 L1237.0,778.1 L1236.0,777.4 L1235.0,776.7 L1234.0,776.1 L1233.0,775.4 L1232.0,774.7 L1231.0,774.0 L1230.0,773.3 L1229.0,772.6 L1228.0,771.9 L1227.0,771.2 L1226.0,770.5 L1225.0,769.8 L1224.0,769.1 L1223.0,768.4 L1222.0,767.7 L1221.0,767.0 L1220.0,766.3 L1219.0,765.6 L1218.0,764.8 L1217.0,764.1 L1216.0,763.4 L1215.0,762.7 L1214.0,761.9 L1213.0,761.2 L1212.0,760.5 L1211.0,759.7 L1210.0,759.0 L1209.0,758.2 L1208.0,757.5 L1207.0,756.7 L1206.0,756.0 L1205.0,755.2 L1204.0,754.4 L1203.0,753.7 L1202.0,752.9 L1201.0,752.1 L1200.0,751.4 L1199.0,750.6 L1198.0,749.8 L1197.0,749.0 L1196.0,748.2 L1195.0,747.4 L1194.0,746.7 L1193.0,745.9 L1192.0,745.1 L1191.0,744.3 L1190.0,743.4 L1189.0,742.6 L1188.0,741.8 L1187.0,741.0 L1186.0,740.2 L1185.0,739.4 L1184.0,738.5 L1183.0,737.7 L1182.0,736.9 L1181.0,736.0 L1180.0,735.2 L1179.0,734.4 L1178.0,733.5 L1177.0,732.7 L1176.0,731.8 L1175.0,731.0 L1174.0,730.1 L1173.0,729.2 L1172.0,728.4 L1171.0,727.5 L1170.0,726.6 L1169.0,725.8 L1168.0,724.9 L1167.0,724.0 L1166.0,723.1 L1165.0,722.2 L1164.0,721.3 L1163.0,720.4 L1162.0,719.5 L1161.0,718.6 L1160.0,717.7 L1159.0,716.8 L1158.0,715.9 L1157.0,715.0 L1156.0,714.1 L1155.0,713.1 L1154.0,712.2 L1153.0,711.3 L1152.0,710.3 L1151.0,709.4 L1150.0,708.5 L1149.0,707.5 L1148.0,706.6 L1147.0,705.6 L1146.0,704.6 L1145.0,703.7 L1144.0,702.7 L1143.0,701.7 L1142.0,700.8 L1141.0,699.8 L1140.0,698.8 L1139.0,697.8 L1138.0,696.8 L1137.0,695.8 L1136.0,694.8 L1135.0,693.8 L1134.0,692.8 L1133.0,691.8 L1132.0,690.8 L1131.0,689.8 L1130.0,688.8 L1129.0,687.7 L1128.0,686.7 L1127.0,685.7 L1126.0,684.6 L1125.0,683.6 L1124.0,682.5 L1123.0,681.5 L1122.0,680.4 L1121.0,679.4 L1120.0,678.3 L1119.0,677.3 L1118.0,676.2 L1117.0,675.1 L1116.0,674.0 L1115.0,672.9 L1114.0,671.9 L1113.0,670.8 L1112.0,669.7 L1111.0,668.6 L1110.0,667.5 L1109.0,666.3 L1108.0,665.2 L1107.0,664.1 L1106.0,663.0 L1105.0,661.9 L1104.0,660.7 L1103.0,659.6 L1102.0,658.5 L1101.0,657.3 L1100.0,656.2 L1099.0,655.0 L1098.0,653.9 L1097.0,652.7 L1096.0,651.5 L1095.0,650.4 L1094.0,649.2 L1093.0,648.0 L1092.0,646.8 L1091.0,645.6 L1090.0,644.4 L1089.0,643.2 L1088.0,642.0 L1087.0,640.8 L1086.0,639.6 L1085.0,638.4 L1084.0,637.2 L1083.0,636.0 L1082.0,634.7 L1081.0,633.5 L1080.0,632.3 L1079.0,631.0 L1078.0,629.8 L1077.0,628.5 L1076.0,627.2 L1075.0,626.0 L1074.0,624.7 L1073.0,623.4 L1072.0,622.2 L1071.0,620.9 L1070.0,619.6 L1069.0,618.3 L1068.0,617.0 L1067.0,615.7 L1066.0,614.4 L1065.0,613.1 L1064.0,611.8 L1063.0,610.5 L1062.0,609.1 L1061.0,607.8 L1060.0,606.5 L1059.0,605.1 L1058.0,603.8 L1057.0,602.4 L1056.0,601.1 L1055.0,599.7 L1054.0,598.4 L1053.0,597.0 L1052.0,595.6 L1051.0,594.2 L1050.0,592.9 L1049.0,591.5 L1048.0,590.1 L1047.0,588.7 L1046.0,587.3 L1045.0,585.9 L1044.0,584.5 L1043.0,583.0 L1042.0,581.6 L1041.0,580.2 L1040.0,578.8 L1039.0,577.3 L1038.0,575.9 L1037.0,574.4 L1036.0,573.0 L1035.0,571.5 L1034.0,570.1 L1033.0,568.6 L1032.0,567.1 L1031.0,565.6 L1030.0,564.2 L1029.0,562.7 L1028.0,561.2 L1027.0,559.7 L1026.0,558.2 L1025.0,556.7 L1024.0,555.2 L1023.0,553.7 L1022.0,552.1 L1021.0,550.6 L1020.0,549.1 L1019.0,547.5 L1018.0,546.0 L1017.0,544.4 L1016.0,542.9 L1015.0,541.3 L1014.0,539.8 L1013.0,538.2 L1012.0,536.6 L1011.0,535.1 L1010.0,533.5 L1009.0,531.9 L1008.0,530.3 L1007.0,528.7 L1006.0,527.1 L1005.0,525.5 L1004.0,523.9 L1003.0,522.3 L1002.0,520.7 L1001.0,519.1 L1000.0,517.4 L999.0,515.8 L998.0,514.2 L997.0,512.5 L996.0,510.9 L995.0,509.2 L994.0,507.6 L993.0,505.9 L992.0,504.2 L991.0,502.6 L990.0,500.9 L989.0,499.2 L988.0,497.5 L987.0,495.8 L986.0,494.1 L985.0,492.4 L984.0,490.7 L983.0,489.0 L982.0,487.3 L981.0,485.6 L980.0,483.9 L979.0,482.2 L978.0,480.4 L977.0,478.7 L976.0,477.0 L975.0,475.2 L974.0,473.5 L973.0,471.7 L972.0,470.0 L971.0,468.2 L970.0,466.5 L969.0,464.7 L968.0,462.9 L967.0,461.1 L966.0,459.4 L965.0,457.6 L964.0,455.8 L963.0,454.0 L962.0,452.2 L961.0,450.4 L960.0,448.6 L959.0,446.8 L958.0,445.0 L957.0,443.2 L956.0,441.4 L955.0,439.6 L954.0,437.7 L953.0,435.9 L952.0,434.1 L951.0,432.3 L950.0,430.4 L949.0,428.6 L948.0,426.7 L947.0,424.9 L946.0,423.0 L945.0,421.2 L944.0,419.3 L943.0,417.5 L942.0,415.6 L941.0,413.8 L940.0,411.9 L939.0,410.0 L938.0,408.2 L937.0,406.3 L936.0,404.4 L935.0,402.5 L934.0,400.7 L933.0,398.8 L932.0,396.9 L931.0,395.0 L930.0,393.1 L929.0,391.2 L928.0,389.3 L927.0,387.5 L926.0,385.6 L925.0,383.7 L924.0,381.8 L923.0,379.9 L922.0,378.0 L921.0,376.1 L920.0,374.2 L919.0,372.2 L918.0,370.3 L917.0,368.4 L916.0,366.5 L915.0,364.6 L914.0,362.7 L913.0,360.8 L912.0,358.9 L911.0,357.0 L910.0,355.1 L909.0,353.1 L908.0,351.2 L907.0,349.3 L906.0,347.4 L905.0,345.5 L904.0,343.6 L903.0,341.7 L902.0,339.8 L901.0,337.9 L900.0,335.9 L899.0,334.0 L898.0,332.1 L897.0,330.2 L896.0,328.3 L895.0,326.4 L894.0,324.5 L893.0,322.6 L892.0,320.7 L891.0,318.8 L890.0,316.9 L889.0,315.0 L888.0,313.1 L887.0,311.2 L886.0,309.3 L885.0,307.4 L884.0,305.5 L883.0,303.7 L882.0,301.8 L881.0,299.9 L880.0,298.0 L879.0,296.1 L878.0,294.3 L877.0,292.4 L876.0,290.5 L875.0,288.7 L874.0,286.8 L873.0,285.0 L872.0,283.1 L871.0,281.3 L870.0,279.4 L869.0,277.6 L868.0,275.8 L867.0,273.9 L866.0,272.1 L865.0,270.3 L864.0,268.5 L863.0,266.7 L862.0,264.9 L861.0,263.1 L860.0,261.3 L859.0,259.5 L858.0,257.7 L857.0,256.0 L856.0,254.2 L855.0,252.4 L854.0,250.7 L853.0,248.9 L852.0,247.2 L851.0,245.5 L850.0,243.7 L849.0,242.0 L848.0,240.3 L847.0,238.6 L846.0,236.9 L845.0,235.2 L844.0,233.5 L843.0,231.9 L842.0,230.2 L841.0,228.5 L840.0,226.9 L839.0,225.3 L838.0,223.6 L837.0,222.0 L836.0,220.4 L835.0,218.8 L834.0,217.2 L833.0,215.6 L832.0,214.0 L831.0,212.5 L830.0,210.9 L829.0,209.4 L828.0,207.8 L827.0,206.3 L826.0,204.8 L825.0,203.3 L824.0,201.8 L823.0,200.3 L822.0,198.9 L821.0,197.4 L820.0,196.0 L819.0,194.5 L818.0,193.1 L817.0,191.7 L816.0,190.3 L815.0,188.9 L814.0,187.6 L813.0,186.2 L812.0,184.9 L811.0,183.5 L810.0,182.2 L809.0,180.9 L808.0,179.6 L807.0,178.3 L806.0,177.1 L805.0,175.8 L804.0,174.6 L803.0,173.4 L802.0,172.1 L801.0,171.0 L800.0,169.8 L799.0,168.6 L798.0,167.5 L797.0,166.3 L796.0,165.2 L795.0,164.1 L794.0,163.0 L793.0,161.9 L792.0,160.9 L791.0,159.8 L790.0,158.8 L789.0,157.8 L788.0,156.8 L787.0,155.8 L786.0,154.9 L785.0,153.9 L784.0,153.0 L783.0,152.1 L782.0,151.2 L781.0,150.3 L780.0,149.5 L779.0,148.6 L778.0,147.8 L777.0,147.0 L776.0,146.2 L775.0,145.4 L774.0,144.7 L773.0,143.9 L772.0,143.2 L771.0,142.5 L770.0,141.8 L769.0,141.2 L768.0,140.5 L767.0,139.9 L766.0,139.3 L765.0,138.7 L764.0,138.1 L763.0,137.6 L762.0,137.0 L761.0,136.5 L760.0,136.0 L759.0,135.6 L758.0,135.1 L757.0,134.7 L756.0,134.2 L755.0,133.8 L754.0,133.5 L753.0,133.1 L752.0,132.7 L751.0,132.4 L750.0,132.1 L749.0,131.8 L748.0,131.6 L747.0,131.3 L746.0,131.1 L745.0,130.9 L744.0,130.7 L743.0,130.5 L742.0,130.4 L741.0,130.3 L740.0,130.2 L739.0,130.1 L738.0,130.0 L737.0,130.0 L736.0,130.0 L735.0,130.0 L734.0,130.1 L733.0,130.2 L732.0,130.3 L731.0,130.4 L730.0,130.6 L729.0,130.7 L728.0,130.9 L727.0,131.1 L726.0,131.4 L725.0,131.6 L724.0,131.9 L723.0,132.2 L722.0,132.5 L721.0,132.8 L720.0,133.1 L719.0,133.5 L718.0,133.9 L717.0,134.3 L716.0,134.7 L715.0,135.1 L714.0,135.6 L713.0,136.1 L712.0,136.6 L711.0,137.1 L710.0,137.6 L709.0,138.2 L708.0,138.8 L707.0,139.4 L706.0,140.0 L705.0,140.6 L704.0,141.3 L703.0,141.9 L702.0,142.6 L701.0,143.3 L700.0,144.0 L699.0,144.8 L698.0,145.5 L697.0,146.3 L696.0,147.1 L695.0,147.9 L694.0,148.7 L693.0,149.6 L692.0,150.4 L691.0,151.3 L690.0,152.2 L689.0,153.1 L688.0,154.0 L687.0,155.0 L686.0,156.0 L685.0,156.9 L684.0,157.9 L683.0,158.9 L682.0,160.0 L681.0,161.0 L680.0,162.1 L679.0,163.1 L678.0,164.2 L677.0,165.3 L676.0,166.5 L675.0,167.6 L674.0,168.8 L673.0,169.9 L672.0,171.1 L671.0,172.3 L670.0,173.5 L669.0,174.7 L668.0,176.0 L667.0,177.2 L666.0,178.5 L665.0,179.8 L664.0,181.1 L663.0,182.4 L662.0,183.7 L661.0,185.0 L660.0,186.4 L659.0,187.7 L658.0,189.1 L657.0,190.5 L656.0,191.9 L655.0,193.3 L654.0,194.7 L653.0,196.2 L652.0,197.6 L651.0,199.1 L650.0,200.5 L649.0,202.0 L648.0,203.5 L647.0,205.0 L646.0,206.5 L645.0,208.0 L644.0,209.6 L643.0,211.1 L642.0,212.7 L641.0,214.2 L640.0,215.8 L639.0,217.4 L638.0,219.0 L637.0,220.6 L636.0,222.2 L635.0,223.8 L634.0,225.5 L633.0,227.1 L632.0,228.7 L631.0,230.4 L630.0,232.1 L629.0,233.7 L628.0,235.4 L627.0,237.1 L626.0,238.8 L625.0,240.5 L624.0,242.2 L623.0,244.0 L622.0,245.7 L621.0,247.4 L620.0,249.2 L619.0,250.9 L618.0,252.7 L617.0,254.4 L616.0,256.2 L615.0,258.0 L614.0,259.7 L613.0,261.5 L612.0,263.3 L611.0,265.1 L610.0,266.9 L609.0,268.7 L608.0,270.5 L607.0,272.4 L606.0,274.2 L605.0,276.0 L604.0,277.8 L603.0,279.7 L602.0,281.5 L601.0,283.4 L600.0,285.2 L599.0,287.1 L598.0,288.9 L597.0,290.8 L596.0,292.6 L595.0,294.5 L594.0,296.4 L593.0,298.2 L592.0,300.1 L591.0,302.0 L590.0,303.9 L589.0,305.8 L588.0,307.7 L587.0,309.5 L586.0,311.4 L585.0,313.3 L584.0,315.2 L583.0,317.1 L582.0,319.0 L581.0,320.9 L580.0,322.8 L579.0,324.7 L578.0,326.6 L577.0,328.5 L576.0,330.5 L575.0,332.4 L574.0,334.3 L573.0,336.2 L572.0,338.1 L571.0,340.0 L570.0,341.9 L569.0,343.8 L568.0,345.7 L567.0,347.6 L566.0,349.6 L565.0,351.5 L564.0,353.4 L563.0,355.3 L562.0,357.2 L561.0,359.1 L560.0,361.0 L559.0,362.9 L558.0,364.9 L557.0,366.8 L556.0,368.7 L555.0,370.6 L554.0,372.5 L553.0,374.4 L552.0,376.3 L551.0,378.2 L550.0,380.1 L549.0,382.0 L548.0,383.9 L547.0,385.8 L546.0,387.7 L545.0,389.6 L544.0,391.5 L543.0,393.4 L542.0,395.2 L541.0,397.1 L540.0,399.0 L539.0,400.9 L538.0,402.8 L537.0,404.7 L536.0,406.5 L535.0,408.4 L534.0,410.3 L533.0,412.1 L532.0,414.0 L531.0,415.9 L530.0,417.7 L529.0,419.6 L528.0,421.4 L527.0,423.3 L526.0,425.1 L525.0,427.0 L524.0,428.8 L523.0,430.6 L522.0,432.5 L521.0,434.3 L520.0,436.1 L519.0,438.0 L518.0,439.8 L517.0,441.6 L516.0,443.4 L515.0,445.2 L514.0,447.0 L513.0,448.8 L512.0,450.6 L511.0,452.4 L510.0,454.2 L509.0,456.0 L508.0,457.8 L507.0,459.6 L506.0,461.4 L505.0,463.1 L504.0,464.9 L503.0,466.7 L502.0,468.4 L501.0,470.2 L500.0,471.9 L499.0,473.7 L498.0,475.4 L497.0,477.2 L496.0,478.9 L495.0,480.6 L494.0,482.4 L493.0,484.1 L492.0,485.8 L491.0,487.5 L490.0,489.2 L489.0,490.9 L488.0,492.7 L487.0,494.3 L486.0,496.0 L485.0,497.7 L484.0,499.4 L483.0,501.1 L482.0,502.8 L481.0,504.4 L480.0,506.1 L479.0,507.8 L478.0,509.4 L477.0,511.1 L476.0,512.7 L475.0,514.4 L474.0,516.0 L473.0,517.6 L472.0,519.3 L471.0,520.9 L470.0,522.5 L469.0,524.1 L468.0,525.7 L467.0,527.3 L466.0,528.9 L465.0,530.5 L464.0,532.1 L463.0,533.7 L462.0,535.3 L461.0,536.8 L460.0,538.4 L459.0,540.0 L458.0,541.5 L457.0,543.1 L456.0,544.6 L455.0,546.2 L454.0,547.7 L453.0,549.3 L452.0,550.8 L451.0,552.3 L450.0,553.8 L449.0,555.4 L448.0,556.9 L447.0,558.4 L446.0,559.9 L445.0,561.4 L444.0,562.9 L443.0,564.3 L442.0,565.8 L441.0,567.3 L440.0,568.8 L439.0,570.2 L438.0,571.7 L437.0,573.2 L436.0,574.6 L435.0,576.1 L434.0,577.5 L433.0,578.9 L432.0,580.4 L431.0,581.8 L430.0,583.2 L429.0,584.6 L428.0,586.0 L427.0,587.5 L426.0,588.9 L425.0,590.3 L424.0,591.6 L423.0,593.0 L422.0,594.4 L421.0,595.8 L420.0,597.2 L419.0,598.5 L418.0,599.9 L417.0,601.3 L416.0,602.6 L415.0,604.0 L414.0,605.3 L413.0,606.6 L412.0,608.0 L411.0,609.3 L410.0,610.6 L409.0,611.9 L408.0,613.3 L407.0,614.6 L406.0,615.9 L405.0,617.2 L404.0,618.5 L403.0,619.8 L402.0,621.0 L401.0,622.3 L400.0,623.6 L399.0,624.9 L398.0,626.1 L397.0,627.4 L396.0,628.7 L395.0,629.9 L394.0,631.2 L393.0,632.4 L392.0,633.6 L391.0,634.9 L390.0,636.1 L389.0,637.3 L388.0,638.6 L387.0,639.8 L386.0,641.0 L385.0,642.2 L384.0,643.4 L383.0,644.6 L382.0,645.8 L381.0,647.0 L380.0,648.2 L379.0,649.3 L378.0,650.5 L377.0,651.7 L376.0,652.8 L375.0,654.0 L374.0,655.2 L373.0,656.3 L372.0,657.5 L371.0,658.6 L370.0,659.7 L369.0,660.9 L368.0,662.0 L367.0,663.1 L366.0,664.3 L365.0,665.4 L364.0,666.5 L363.0,667.6 L362.0,668.7 L361.0,669.8 L360.0,670.9 L359.0,672.0 L358.0,673.1 L357.0,674.2 L356.0,675.2 L355.0,676.3 L354.0,677.4 L353.0,678.5 L352.0,679.5 L351.0,680.6 L350.0,681.6 L349.0,682.7 L348.0,683.7 L347.0,684.8 L346.0,685.8 L345.0,686.8 L344.0,687.9 L343.0,688.9 L342.0,689.9 L341.0,690.9 L340.0,691.9 L339.0,692.9 L338.0,694.0 L337.0,695.0 L336.0,696.0 L335.0,696.9 L334.0,697.9 L333.0,698.9 L332.0,699.9 L331.0,700.9 L330.0,701.9 L329.0,702.8 L328.0,703.8 L327.0,704.8 L326.0,705.7 L325.0,706.7 L324.0,707.6 L323.0,708.6 L322.0,709.5 L321.0,710.5 L320.0,711.4 L319.0,712.3 L318.0,713.3 L317.0,714.2 L316.0,715.1 L315.0,716.0 L314.0,716.9 L313.0,717.8 L312.0,718.7 L311.0,719.7 L310.0,720.6 L309.0,721.4 L308.0,722.3 L307.0,723.2 L306.0,724.1 L305.0,725.0 L304.0,725.9 L303.0,726.8 L302.0,727.6 L301.0,728.5 L300.0,729.4 L299.0,730.2 L298.0,731.1 L297.0,731.9 L296.0,732.8 L295.0,733.6 L294.0,734.5 L293.0,735.3 L292.0,736.2 L291.0,737.0 L290.0,737.8 L289.0,738.6 L288.0,739.5 L287.0,740.3 L286.0,741.1 L285.0,741.9 L284.0,742.7 L283.0,743.5 L282.0,744.4 L281.0,745.2 L280.0,746.0 L279.0,746.8 L278.0,747.5 L277.0,748.3 L276.0,749.1 L275.0,749.9 L274.0,750.7 L273.0,751.5 L272.0,752.2 L271.0,753.0 L270.0,753.8 L269.0,754.5 L268.0,755.3 L267.0,756.1 L266.0,756.8 L265.0,757.6 L264.0,758.3 L263.0,759.1 L262.0,759.8 L261.0,760.6 L260.0,761.3 L259.0,762.0 L258.0,762.8 L257.0,763.5 L256.0,764.2 L255.0,764.9 L254.0,765.7 L253.0,766.4 L252.0,767.1 L251.0,767.8 L250.0,768.5 L249.0,769.2 L248.0,769.9 L247.0,770.6 L246.0,771.3 L245.0,772.0 L244.0,772.7 L243.0,773.4 L242.0,774.1 L241.0,774.8 L240.0,775.5 L239.0,776.1 L238.0,776.8 L237.0,777.5 L236.0,778.2 L235.0,778.8 L234.0,779.5 L233.0,780.2 L232.0,780.8 L231.0,781.5 L230.0,782.1 L229.0,782.8 L228.0,783.4 L227.0,784.1 L226.0,784.7 L225.0,785.4 L224.0,786.0 L223.0,786.7 L222.0,787.3 L221.0,787.9 L220.0,788.6 L219.0,789.2 L218.0,789.8 L217.0,790.4 L216.0,791.1 L215.0,791.7 L214.0,792.3 L213.0,792.9 L212.0,793.5 L211.0,794.1 L210.0,794.7 L209.0,795.4 L208.0,796.0 L207.0,796.6 L206.0,797.2 L205.0,797.7 L204.0,798.3 L203.0,798.9 L202.0,799.5 L201.0,800.1 L200.0,800.7 L199.0,801.3 L198.0,801.9 L197.0,802.4 L196.0,803.0 L195.0,803.6 L194.0,804.2 L193.0,804.7 L192.0,805.3 L191.0,805.9 L190.0,806.4 L189.0,807.0 L188.0,807.5 L187.0,808.1 L186.0,808.6 L185.0,809.2 L184.0,809.7 L183.0,810.3 L182.0,810.8 L181.0,811.4 L180.0,811.9 L179.0,812.5 L178.0,813.0 L177.0,813.5 L176.0,814.1 L175.0,814.6 L174.0,814.6 L173.0,814.6 Z" fill="#ff0000"/></g>
<g fill="#000" shape-rendering="crispEdges"><rect x="1296" y="48" width="5" height="911"/><rect x="736" y="954" width="565" height="5"/></g>
<rect x="196" y="80" width="374" height="178" fill="none" stroke="#000" stroke-width="2" shape-rendering="crispEdges"/>
<g shape-rendering="crispEdges"><rect x="244.5" y="102.5" width="20" height="19" fill="#505050" stroke="#414141" stroke-width="1"/><path d="M253.70,154.60 L255.30,154.60 L267.50,176.50 L241.50,176.50 Z" fill="#1b72de" stroke="#0a62dc" stroke-width="1" stroke-linejoin="miter"/><path d="M253.80,212.00 L256.20,212.00 L269.00,224.80 L269.00,227.20 L256.20,240.00 L253.80,240.00 L241.00,227.20 L241.00,224.80 Z" fill="#ff0000"/></g>
</svg></body></html>
